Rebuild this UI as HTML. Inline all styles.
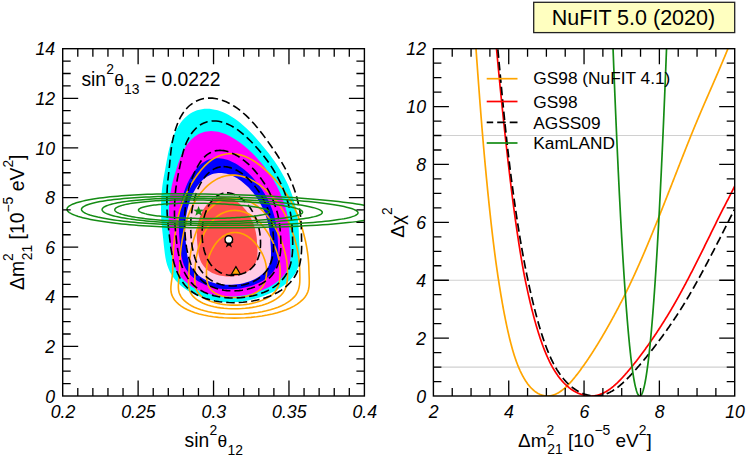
<!DOCTYPE html><html><head><meta charset="utf-8"><title>NuFIT 5.0</title>
<style>html,body{margin:0;padding:0;background:#fff}svg{display:block}text{font-family:"Liberation Sans",sans-serif;fill:#000}</style></head><body>
<svg width="747" height="457" viewBox="0 0 747 457">
<rect width="747" height="457" fill="#fff"/>
<defs><clipPath id="cl"><rect x="62.70" y="48.70" width="301.70" height="347.30"/></clipPath>
<clipPath id="cr"><rect x="433.40" y="48.70" width="301.30" height="347.30"/></clipPath></defs>
<g clip-path="url(#cl)">
<path d="M206.95 108.73 L209.56 108.83 L212.22 109.14 L214.91 109.64 L217.64 110.34 L220.40 111.23 L223.18 112.32 L225.98 113.61 L228.80 115.09 L231.63 116.75 L234.47 118.60 L237.31 120.62 L240.16 122.83 L243.00 125.20 L245.84 127.75 L248.68 130.45 L251.52 133.31 L254.35 136.32 L257.18 139.47 L260.03 142.76 L262.92 146.18 L265.82 149.72 L268.73 153.37 L271.59 157.14 L274.39 161.01 L277.08 164.97 L279.62 169.01 L282.00 173.13 L284.28 177.31 L286.46 181.56 L288.48 185.85 L290.31 190.18 L291.94 194.55 L293.39 198.94 L294.68 203.34 L295.81 207.75 L296.78 212.15 L297.52 216.54 L298.05 220.91 L298.43 225.24 L298.69 229.54 L298.88 233.78 L299.06 237.97 L299.23 242.09 L299.43 246.13 L299.62 250.09 L299.74 253.95 L299.68 257.72 L299.37 261.38 L298.71 264.92 L297.67 268.34 L296.21 271.63 L294.32 274.78 L292.04 277.79 L289.38 280.65 L286.38 283.35 L283.08 285.89 L279.53 288.27 L275.76 290.47 L271.83 292.50 L267.77 294.34 L263.63 296.01 L259.42 297.48 L255.19 298.77 L250.94 299.86 L246.69 300.76 L242.46 301.46 L238.25 301.96 L234.06 302.26 L229.91 302.36 L229.91 302.36 L225.78 302.26 L221.69 301.96 L217.63 301.46 L213.61 300.76 L209.63 299.86 L205.71 298.77 L201.86 297.48 L198.09 296.01 L194.42 294.34 L190.88 292.50 L187.48 290.47 L184.26 288.27 L181.23 285.89 L178.43 283.35 L175.86 280.65 L173.57 277.79 L171.54 274.78 L169.80 271.63 L168.34 268.34 L167.15 264.92 L166.19 261.38 L165.45 257.72 L164.87 253.95 L164.39 250.09 L163.95 246.13 L163.52 242.09 L163.09 237.97 L162.64 233.78 L162.18 229.54 L161.76 225.24 L161.40 220.91 L161.13 216.54 L161.00 212.15 L161.03 207.75 L161.11 203.34 L161.26 198.94 L161.51 194.55 L161.88 190.18 L162.37 185.85 L162.99 181.56 L163.69 177.31 L164.44 173.13 L165.21 169.01 L165.94 164.97 L166.66 161.01 L167.38 157.14 L168.14 153.37 L168.97 149.72 L169.87 146.18 L170.89 142.76 L172.02 139.47 L173.24 136.32 L174.55 133.31 L175.94 130.45 L177.42 127.75 L178.98 125.20 L180.64 122.83 L182.39 120.62 L184.23 118.60 L186.16 116.75 L188.18 115.09 L190.28 113.61 L192.45 112.32 L194.71 111.23 L197.03 110.34 L199.42 109.64 L201.87 109.14 L204.39 108.83 L206.95 108.73Z" fill="#00ffff"/>
<path d="M211.28 131.05 L213.56 131.13 L215.88 131.39 L218.23 131.82 L220.61 132.41 L223.03 133.18 L225.48 134.11 L227.94 135.21 L230.43 136.48 L232.94 137.90 L235.46 139.48 L238.01 141.21 L240.58 143.09 L243.17 145.12 L245.78 147.30 L248.41 149.61 L251.05 152.05 L253.68 154.62 L256.30 157.32 L258.89 160.13 L261.43 163.05 L263.89 166.08 L266.25 169.21 L268.52 172.43 L270.72 175.73 L272.86 179.12 L274.90 182.57 L276.84 186.09 L278.65 189.67 L280.32 193.30 L281.84 196.97 L283.24 200.67 L284.51 204.41 L285.66 208.16 L286.68 211.92 L287.52 215.69 L288.18 219.45 L288.70 223.21 L289.11 226.94 L289.42 230.64 L289.66 234.32 L289.87 237.94 L290.05 241.52 L290.22 245.04 L290.41 248.50 L290.55 251.88 L290.59 255.19 L290.46 258.41 L290.11 261.53 L289.48 264.56 L288.54 267.48 L287.28 270.30 L285.68 272.99 L283.76 275.56 L281.53 278.01 L279.03 280.32 L276.27 282.49 L273.29 284.52 L270.11 286.40 L266.77 288.14 L263.30 289.72 L259.71 291.14 L256.05 292.40 L252.33 293.50 L248.56 294.43 L244.77 295.20 L240.97 295.80 L237.17 296.22 L233.37 296.48 L229.60 296.57 L229.60 296.57 L225.85 296.48 L222.13 296.22 L218.45 295.80 L214.82 295.20 L211.25 294.43 L207.75 293.50 L204.32 292.40 L201.00 291.14 L197.78 289.72 L194.68 288.14 L191.73 286.40 L188.94 284.52 L186.33 282.49 L183.90 280.32 L181.69 278.01 L179.70 275.56 L177.93 272.99 L176.39 270.30 L175.08 267.48 L173.99 264.56 L173.11 261.53 L172.40 258.41 L171.84 255.19 L171.38 251.88 L170.99 248.50 L170.63 245.04 L170.27 241.52 L169.91 237.94 L169.58 234.32 L169.27 230.64 L168.99 226.94 L168.78 223.21 L168.65 219.45 L168.62 215.69 L168.70 211.92 L168.91 208.16 L169.17 204.41 L169.51 200.67 L169.92 196.97 L170.43 193.30 L171.03 189.67 L171.73 186.09 L172.52 182.57 L173.39 179.12 L174.32 175.73 L175.29 172.43 L176.29 169.21 L177.30 166.08 L178.31 163.05 L179.34 160.13 L180.41 157.32 L181.53 154.62 L182.71 152.05 L183.96 149.61 L185.28 147.30 L186.68 145.12 L188.17 143.09 L189.73 141.21 L191.38 139.48 L193.10 137.90 L194.89 136.48 L196.73 135.21 L198.64 134.11 L200.61 133.18 L202.64 132.41 L204.73 131.82 L206.86 131.39 L209.05 131.13 L211.28 131.05Z" fill="#ff00ff"/>
<path d="M217.22 158.16 L219.14 158.23 L221.10 158.43 L223.08 158.77 L225.10 159.25 L227.14 159.85 L229.20 160.59 L231.29 161.46 L233.38 162.46 L235.49 163.59 L237.60 164.84 L239.70 166.21 L241.80 167.70 L243.87 169.31 L245.92 171.03 L247.95 172.86 L249.96 174.80 L251.95 176.83 L253.90 178.97 L255.82 181.19 L257.69 183.51 L259.51 185.91 L261.27 188.38 L262.95 190.93 L264.56 193.55 L266.08 196.23 L267.53 198.97 L268.89 201.75 L270.16 204.59 L271.35 207.46 L272.45 210.37 L273.44 213.30 L274.30 216.26 L275.05 219.23 L275.68 222.21 L276.22 225.19 L276.66 228.18 L277.03 231.15 L277.33 234.10 L277.57 237.04 L277.77 239.94 L277.92 242.82 L278.08 245.65 L278.24 248.44 L278.36 251.18 L278.41 253.86 L278.35 256.47 L278.15 259.02 L277.77 261.50 L277.18 263.90 L276.37 266.21 L275.33 268.44 L274.05 270.57 L272.54 272.61 L270.81 274.54 L268.87 276.37 L266.73 278.09 L264.42 279.70 L261.96 281.19 L259.35 282.57 L256.61 283.82 L253.78 284.94 L250.86 285.94 L247.87 286.81 L244.82 287.55 L241.74 288.16 L238.62 288.63 L235.49 288.97 L232.36 289.18 L229.23 289.24 L229.23 289.24 L226.12 289.18 L223.04 288.97 L219.99 288.63 L216.99 288.16 L214.04 287.55 L211.16 286.81 L208.35 285.94 L205.64 284.94 L203.02 283.82 L200.51 282.57 L198.12 281.19 L195.87 279.70 L193.75 278.09 L191.79 276.37 L189.99 274.54 L188.36 272.61 L186.89 270.57 L185.60 268.44 L184.48 266.21 L183.52 263.90 L182.72 261.50 L182.06 259.02 L181.53 256.47 L181.10 253.86 L180.74 251.18 L180.43 248.44 L180.14 245.65 L179.86 242.82 L179.58 239.94 L179.35 237.04 L179.15 234.10 L179.00 231.15 L178.91 228.18 L178.87 225.19 L178.91 222.21 L179.02 219.23 L179.21 216.26 L179.50 213.30 L179.87 210.37 L180.33 207.46 L180.84 204.59 L181.41 201.75 L182.05 198.97 L182.76 196.23 L183.53 193.55 L184.38 190.93 L185.29 188.38 L186.27 185.91 L187.32 183.51 L188.42 181.19 L189.57 178.97 L190.77 176.83 L192.01 174.80 L193.30 172.86 L194.63 171.03 L195.99 169.31 L197.39 167.70 L198.82 166.21 L200.28 164.84 L201.78 163.59 L203.33 162.46 L204.91 161.46 L206.54 160.59 L208.22 159.85 L209.94 159.25 L211.70 158.77 L213.50 158.43 L215.34 158.23 L217.22 158.16Z" fill="#0000ff"/>
<path d="M219.93 172.92 L221.63 172.97 L223.36 173.15 L225.10 173.44 L226.86 173.84 L228.63 174.36 L230.41 174.99 L232.20 175.73 L233.99 176.59 L235.79 177.55 L237.58 178.62 L239.37 179.79 L241.15 181.06 L242.91 182.43 L244.66 183.90 L246.39 185.47 L248.09 187.12 L249.75 188.86 L251.38 190.68 L252.96 192.58 L254.49 194.56 L255.98 196.60 L257.40 198.72 L258.77 200.89 L260.08 203.13 L261.33 205.42 L262.51 207.75 L263.62 210.13 L264.64 212.55 L265.58 215.01 L266.41 217.49 L267.16 219.99 L267.82 222.52 L268.40 225.05 L268.89 227.60 L269.32 230.15 L269.68 232.69 L269.97 235.23 L270.21 237.75 L270.39 240.26 L270.52 242.74 L270.67 245.19 L270.81 247.61 L270.93 249.99 L271.01 252.33 L271.01 254.62 L270.90 256.85 L270.67 259.03 L270.30 261.14 L269.75 263.19 L269.03 265.17 L268.12 267.07 L267.03 268.89 L265.75 270.63 L264.30 272.28 L262.67 273.84 L260.88 275.31 L258.95 276.68 L256.88 277.96 L254.69 279.13 L252.39 280.20 L250.00 281.16 L247.53 282.01 L244.99 282.75 L242.39 283.39 L239.75 283.90 L237.09 284.31 L234.40 284.60 L231.71 284.77 L229.01 284.83 L229.01 284.83 L226.33 284.77 L223.67 284.60 L221.04 284.31 L218.45 283.90 L215.91 283.39 L213.43 282.75 L211.01 282.01 L208.67 281.16 L206.42 280.20 L204.26 279.13 L202.21 277.96 L200.27 276.68 L198.45 275.31 L196.76 273.84 L195.20 272.28 L193.77 270.63 L192.49 268.89 L191.35 267.07 L190.35 265.17 L189.48 263.19 L188.74 261.14 L188.13 259.03 L187.62 256.85 L187.20 254.62 L186.85 252.33 L186.56 249.99 L186.31 247.61 L186.07 245.19 L185.83 242.74 L185.60 240.26 L185.41 237.75 L185.27 235.23 L185.18 232.69 L185.15 230.15 L185.17 227.60 L185.26 225.05 L185.41 222.52 L185.63 219.99 L185.92 217.49 L186.29 215.01 L186.73 212.55 L187.24 210.13 L187.83 207.75 L188.46 205.42 L189.15 203.13 L189.89 200.89 L190.69 198.72 L191.55 196.60 L192.47 194.56 L193.44 192.58 L194.46 190.68 L195.54 188.86 L196.67 187.12 L197.84 185.47 L199.07 183.90 L200.33 182.43 L201.63 181.06 L202.98 179.79 L204.36 178.62 L205.77 177.55 L207.22 176.59 L208.71 175.73 L210.22 174.99 L211.77 174.36 L213.35 173.84 L214.95 173.44 L216.59 173.15 L218.24 172.97 L219.93 172.92Z" fill="#ffcce6"/>
<path d="M222.75 196.82 L224.04 196.86 L225.33 196.98 L226.63 197.19 L227.93 197.48 L229.24 197.85 L230.54 198.30 L231.85 198.82 L233.15 199.43 L234.44 200.12 L235.72 200.88 L236.99 201.71 L238.24 202.62 L239.48 203.59 L240.69 204.64 L241.88 205.75 L243.04 206.93 L244.18 208.16 L245.28 209.46 L246.35 210.81 L247.38 212.22 L248.36 213.68 L249.30 215.18 L250.18 216.73 L251.02 218.32 L251.80 219.95 L252.53 221.61 L253.21 223.31 L253.83 225.03 L254.39 226.77 L254.90 228.54 L255.36 230.32 L255.76 232.12 L256.11 233.92 L256.40 235.74 L256.64 237.55 L256.82 239.36 L256.95 241.17 L257.06 242.96 L257.18 244.74 L257.29 246.51 L257.39 248.26 L257.47 249.98 L257.52 251.67 L257.52 253.33 L257.45 254.96 L257.31 256.55 L257.08 258.10 L256.76 259.61 L256.33 261.06 L255.80 262.47 L255.15 263.82 L254.39 265.12 L253.52 266.36 L252.54 267.53 L251.45 268.64 L250.25 269.69 L248.96 270.67 L247.58 271.57 L246.11 272.41 L244.57 273.17 L242.96 273.85 L241.29 274.46 L239.56 274.99 L237.80 275.44 L235.99 275.81 L234.16 276.09 L232.31 276.30 L230.45 276.42 L228.58 276.46 L228.58 276.46 L226.72 276.42 L224.86 276.30 L223.03 276.09 L221.22 275.81 L219.45 275.44 L217.71 274.99 L216.02 274.46 L214.39 273.85 L212.81 273.17 L211.30 272.41 L209.85 271.57 L208.49 270.67 L207.20 269.69 L205.99 268.64 L204.87 267.53 L203.84 266.36 L202.90 265.12 L202.05 263.82 L201.29 262.47 L200.62 261.06 L200.03 259.61 L199.53 258.10 L199.09 256.55 L198.73 254.96 L198.42 253.33 L198.16 251.67 L197.94 249.98 L197.75 248.26 L197.57 246.51 L197.41 244.74 L197.25 242.96 L197.09 241.17 L196.95 239.36 L196.87 237.55 L196.84 235.74 L196.86 233.92 L196.93 232.12 L197.06 230.32 L197.23 228.54 L197.46 226.77 L197.74 225.03 L198.08 223.31 L198.46 221.61 L198.90 219.95 L199.39 218.32 L199.93 216.73 L200.52 215.18 L201.16 213.68 L201.85 212.22 L202.58 210.81 L203.35 209.46 L204.17 208.16 L205.02 206.93 L205.91 205.75 L206.83 204.64 L207.79 203.59 L208.78 202.62 L209.81 201.71 L210.86 200.88 L211.95 200.12 L213.06 199.43 L214.20 198.82 L215.36 198.30 L216.55 197.85 L217.76 197.48 L218.98 197.19 L220.22 196.98 L221.48 196.86 L222.75 196.82Z" fill="#ff5050"/>
<path d="M235.04 232.47 L236.19 232.50 L237.35 232.60 L238.51 232.77 L239.66 233.00 L240.82 233.31 L241.97 233.67 L243.12 234.11 L244.25 234.60 L245.38 235.16 L246.50 235.78 L247.61 236.46 L248.70 237.20 L249.78 238.00 L250.85 238.86 L251.89 239.77 L252.92 240.73 L253.92 241.74 L254.91 242.80 L255.86 243.91 L256.79 245.06 L257.69 246.25 L258.55 247.48 L259.39 248.74 L260.20 250.04 L260.97 251.37 L261.71 252.73 L262.41 254.12 L263.06 255.52 L263.67 256.95 L264.22 258.40 L264.72 259.85 L265.16 261.32 L265.54 262.80 L265.87 264.28 L266.13 265.76 L266.33 267.24 L266.47 268.72 L266.55 270.18 L266.57 271.64 L266.54 273.09 L266.45 274.51 L266.31 275.92 L266.11 277.30 L265.85 278.66 L265.53 280.00 L265.14 281.30 L264.68 282.56 L264.15 283.79 L263.53 284.98 L262.84 286.13 L262.06 287.24 L261.19 288.30 L260.24 289.31 L259.20 290.27 L258.06 291.18 L256.82 292.03 L255.49 292.83 L254.06 293.57 L252.55 294.26 L250.96 294.88 L249.30 295.44 L247.58 295.93 L245.80 296.36 L243.98 296.73 L242.12 297.03 L240.24 297.27 L238.34 297.44 L236.43 297.54 L234.52 297.57 L234.52 297.57 L232.62 297.54 L230.73 297.44 L228.87 297.27 L227.04 297.03 L225.26 296.73 L223.53 296.36 L221.86 295.93 L220.25 295.44 L218.72 294.88 L217.27 294.26 L215.91 293.57 L214.65 292.83 L213.49 292.03 L212.43 291.18 L211.48 290.27 L210.62 289.31 L209.86 288.30 L209.20 287.24 L208.61 286.13 L208.12 284.98 L207.70 283.79 L207.35 282.56 L207.07 281.30 L206.86 280.00 L206.70 278.66 L206.58 277.30 L206.51 275.92 L206.47 274.51 L206.47 273.09 L206.48 271.64 L206.52 270.18 L206.59 268.72 L206.70 267.24 L206.87 265.76 L207.08 264.28 L207.35 262.80 L207.66 261.32 L208.02 259.85 L208.43 258.40 L208.89 256.95 L209.39 255.52 L209.94 254.12 L210.52 252.73 L211.15 251.37 L211.80 250.04 L212.49 248.74 L213.21 247.48 L213.95 246.25 L214.73 245.06 L215.54 243.91 L216.38 242.80 L217.24 241.74 L218.14 240.73 L219.06 239.77 L220.00 238.86 L220.96 238.00 L221.95 237.20 L222.96 236.46 L223.98 235.78 L225.03 235.16 L226.09 234.60 L227.16 234.11 L228.26 233.67 L229.36 233.31 L230.48 233.00 L231.61 232.77 L232.74 232.60 L233.89 232.50 L235.04 232.47Z" fill="none" stroke="#ffa500" stroke-width="1.6"/>
<path d="M234.51 210.39 L236.16 210.44 L237.82 210.58 L239.48 210.83 L241.14 211.17 L242.79 211.61 L244.43 212.14 L246.07 212.77 L247.69 213.50 L249.29 214.31 L250.88 215.21 L252.44 216.21 L253.97 217.29 L255.47 218.45 L256.94 219.69 L258.37 221.02 L259.77 222.41 L261.14 223.89 L262.47 225.43 L263.77 227.04 L265.03 228.71 L266.25 230.45 L267.44 232.24 L268.59 234.08 L269.70 235.97 L270.77 237.91 L271.80 239.89 L272.79 241.90 L273.73 243.95 L274.61 246.03 L275.43 248.13 L276.20 250.25 L276.92 252.39 L277.57 254.54 L278.16 256.69 L278.68 258.85 L279.11 261.01 L279.47 263.16 L279.75 265.29 L279.94 267.41 L280.05 269.52 L280.10 271.59 L280.09 273.64 L280.03 275.66 L279.90 277.64 L279.70 279.57 L279.41 281.47 L279.02 283.31 L278.51 285.10 L277.87 286.83 L277.10 288.51 L276.17 290.12 L275.07 291.66 L273.77 293.13 L272.28 294.53 L270.60 295.85 L268.74 297.10 L266.71 298.26 L264.52 299.34 L262.20 300.33 L259.76 301.24 L257.21 302.05 L254.58 302.77 L251.88 303.40 L249.11 303.94 L246.27 304.38 L243.36 304.72 L240.42 304.96 L237.46 305.11 L234.50 305.16 L234.50 305.16 L231.56 305.11 L228.65 304.96 L225.79 304.72 L223.00 304.38 L220.29 303.94 L217.69 303.40 L215.17 302.77 L212.75 302.05 L210.43 301.24 L208.23 300.33 L206.16 299.34 L204.24 298.26 L202.49 297.10 L200.93 295.85 L199.55 294.53 L198.37 293.13 L197.39 291.66 L196.61 290.12 L196.00 288.51 L195.53 286.83 L195.20 285.10 L194.98 283.31 L194.86 281.47 L194.82 279.57 L194.84 277.64 L194.89 275.66 L194.96 273.64 L195.03 271.59 L195.09 269.52 L195.17 267.41 L195.32 265.29 L195.51 263.16 L195.77 261.01 L196.08 258.85 L196.46 256.69 L196.89 254.54 L197.37 252.39 L197.90 250.25 L198.47 248.13 L199.09 246.03 L199.76 243.95 L200.47 241.90 L201.24 239.89 L202.05 237.91 L202.89 235.97 L203.77 234.08 L204.69 232.24 L205.65 230.45 L206.65 228.71 L207.68 227.04 L208.76 225.43 L209.88 223.89 L211.04 222.41 L212.25 221.02 L213.49 219.69 L214.78 218.45 L216.11 217.29 L217.48 216.21 L218.89 215.21 L220.34 214.31 L221.81 213.50 L223.32 212.77 L224.86 212.14 L226.42 211.61 L228.01 211.17 L229.61 210.83 L231.23 210.58 L232.87 210.44 L234.51 210.39Z" fill="none" stroke="#ffa500" stroke-width="1.6"/>
<path d="M234.08 197.91 L235.99 197.96 L237.92 198.14 L239.85 198.42 L241.78 198.82 L243.72 199.34 L245.64 199.96 L247.57 200.70 L249.48 201.54 L251.37 202.50 L253.24 203.55 L255.10 204.72 L256.92 205.98 L258.71 207.34 L260.46 208.79 L262.17 210.34 L263.83 211.98 L265.45 213.70 L267.01 215.51 L268.53 217.39 L269.98 219.35 L271.38 221.38 L272.72 223.47 L274.01 225.63 L275.26 227.84 L276.45 230.11 L277.60 232.43 L278.70 234.78 L279.75 237.18 L280.76 239.61 L281.72 242.07 L282.60 244.55 L283.42 247.06 L284.17 249.57 L284.86 252.09 L285.49 254.62 L286.03 257.14 L286.50 259.65 L286.87 262.15 L287.16 264.63 L287.36 267.09 L287.48 269.52 L287.52 271.92 L287.54 274.28 L287.49 276.60 L287.39 278.86 L287.19 281.08 L286.88 283.23 L286.44 285.33 L285.85 287.36 L285.08 289.32 L284.11 291.20 L282.90 293.00 L281.44 294.73 L279.73 296.36 L277.78 297.91 L275.61 299.37 L273.25 300.73 L270.71 301.99 L268.03 303.15 L265.20 304.21 L262.20 305.16 L259.03 306.01 L255.74 306.74 L252.33 307.37 L248.84 307.88 L245.29 308.28 L241.70 308.57 L238.10 308.74 L234.50 308.80 L234.50 308.80 L230.92 308.74 L227.39 308.57 L223.93 308.28 L220.54 307.88 L217.26 307.37 L214.10 306.74 L211.08 306.01 L208.22 305.16 L205.53 304.21 L203.03 303.15 L200.69 301.99 L198.49 300.73 L196.47 299.37 L194.66 297.91 L193.09 296.36 L191.76 294.73 L190.69 293.00 L189.86 291.20 L189.27 289.32 L188.87 287.36 L188.64 285.33 L188.54 283.23 L188.55 281.08 L188.63 278.86 L188.76 276.60 L188.90 274.28 L189.01 271.92 L189.08 269.52 L189.16 267.09 L189.29 264.63 L189.48 262.15 L189.73 259.65 L190.03 257.14 L190.39 254.62 L190.81 252.09 L191.28 249.57 L191.79 247.06 L192.36 244.55 L192.98 242.07 L193.66 239.61 L194.39 237.18 L195.16 234.78 L195.97 232.43 L196.82 230.11 L197.72 227.84 L198.66 225.63 L199.66 223.47 L200.71 221.38 L201.82 219.35 L202.98 217.39 L204.21 215.51 L205.50 213.70 L206.85 211.98 L208.26 210.34 L209.72 208.79 L211.23 207.34 L212.78 205.98 L214.38 204.72 L216.01 203.55 L217.69 202.50 L219.40 201.54 L221.15 200.70 L222.93 199.96 L224.73 199.34 L226.56 198.82 L228.41 198.42 L230.28 198.14 L232.17 197.96 L234.08 197.91Z" fill="none" stroke="#ffa500" stroke-width="1.6"/>
<path d="M232.79 175.07 L234.97 175.15 L237.18 175.36 L239.41 175.72 L241.66 176.23 L243.92 176.87 L246.20 177.66 L248.49 178.58 L250.79 179.64 L253.09 180.84 L255.39 182.17 L257.69 183.62 L259.98 185.21 L262.24 186.92 L264.49 188.74 L266.71 190.69 L268.89 192.74 L271.03 194.91 L273.12 197.17 L275.15 199.54 L277.10 202.00 L278.98 204.54 L280.78 207.17 L282.49 209.88 L284.10 212.66 L285.63 215.51 L287.06 218.41 L288.40 221.37 L289.66 224.38 L290.85 227.43 L291.97 230.52 L293.03 233.64 L294.03 236.78 L294.98 239.93 L295.86 243.10 L296.64 246.27 L297.33 249.44 L297.94 252.59 L298.47 255.73 L298.91 258.85 L299.25 261.93 L299.50 264.99 L299.66 268.00 L299.74 270.96 L299.81 273.86 L299.87 276.71 L299.86 279.49 L299.76 282.20 L299.52 284.83 L299.09 287.37 L298.43 289.83 L297.48 292.20 L296.18 294.46 L294.52 296.63 L292.50 298.68 L290.16 300.63 L287.56 302.45 L284.71 304.16 L281.55 305.75 L278.09 307.20 L274.37 308.53 L270.43 309.73 L266.31 310.79 L262.05 311.71 L257.68 312.50 L253.18 313.14 L248.56 313.65 L243.89 314.01 L239.19 314.22 L234.50 314.30 L234.50 314.30 L229.85 314.22 L225.27 314.01 L220.80 313.65 L216.47 313.14 L212.30 312.50 L208.33 311.71 L204.52 310.79 L200.89 309.73 L197.47 308.53 L194.29 307.20 L191.38 305.75 L188.76 304.16 L186.43 302.45 L184.33 300.63 L182.48 298.68 L180.97 296.63 L179.81 294.46 L179.01 292.20 L178.55 289.83 L178.35 287.37 L178.37 284.83 L178.54 282.20 L178.81 279.49 L179.11 276.71 L179.37 273.86 L179.54 270.96 L179.60 268.00 L179.69 264.99 L179.82 261.93 L179.99 258.85 L180.22 255.73 L180.50 252.59 L180.84 249.44 L181.22 246.27 L181.68 243.10 L182.20 239.93 L182.79 236.78 L183.41 233.64 L184.08 230.52 L184.80 227.43 L185.57 224.38 L186.41 221.37 L187.33 218.41 L188.33 215.51 L189.42 212.66 L190.59 209.88 L191.85 207.17 L193.18 204.54 L194.59 202.00 L196.07 199.54 L197.61 197.17 L199.23 194.91 L200.90 192.74 L202.64 190.69 L204.42 188.74 L206.26 186.92 L208.14 185.21 L210.05 183.62 L212.00 182.17 L213.97 180.84 L215.97 179.64 L218.00 178.58 L220.05 177.66 L222.12 176.87 L224.22 176.23 L226.33 175.72 L228.47 175.36 L230.62 175.15 L232.79 175.07Z" fill="none" stroke="#ffa500" stroke-width="1.6"/>
<path d="M231.05 153.71 L233.49 153.80 L235.94 154.06 L238.40 154.48 L240.86 155.07 L243.33 155.84 L245.79 156.76 L248.25 157.85 L250.70 159.11 L253.14 160.52 L255.57 162.09 L258.00 163.81 L260.43 165.68 L262.86 167.70 L265.30 169.85 L267.75 172.15 L270.21 174.58 L272.70 177.13 L275.19 179.81 L277.65 182.60 L280.07 185.50 L282.44 188.51 L284.73 191.61 L286.95 194.81 L289.07 198.09 L291.07 201.45 L292.96 204.88 L294.72 208.38 L296.34 211.93 L297.84 215.54 L299.21 219.18 L300.48 222.86 L301.64 226.57 L302.72 230.30 L303.73 234.03 L304.68 237.78 L305.57 241.51 L306.33 245.24 L306.99 248.95 L307.55 252.63 L308.02 256.27 L308.39 259.88 L308.65 263.43 L308.83 266.93 L308.92 270.36 L309.03 273.72 L309.16 277.00 L309.26 280.20 L309.25 283.30 L309.05 286.31 L308.59 289.21 L307.80 292.00 L306.56 294.68 L304.86 297.23 L302.70 299.66 L300.15 301.96 L297.27 304.11 L293.98 306.13 L290.29 308.00 L286.24 309.72 L281.90 311.29 L277.32 312.70 L272.43 313.96 L267.28 315.05 L261.94 315.97 L256.49 316.74 L250.99 317.33 L245.47 317.75 L239.96 318.01 L234.50 318.10 L234.50 318.10 L229.09 318.01 L223.76 317.75 L218.51 317.33 L213.39 316.74 L208.42 315.97 L203.64 315.05 L199.12 313.96 L194.91 312.70 L191.04 311.29 L187.43 309.72 L184.13 308.00 L181.17 306.13 L178.58 304.11 L176.34 301.96 L174.39 299.66 L172.84 297.23 L171.74 294.68 L171.09 292.00 L170.86 289.21 L170.94 286.31 L171.25 283.30 L171.68 280.20 L172.14 277.00 L172.52 273.72 L172.72 270.36 L172.77 266.93 L172.84 263.43 L172.94 259.88 L173.07 256.27 L173.25 252.63 L173.49 248.95 L173.78 245.24 L174.15 241.51 L174.62 237.78 L175.12 234.03 L175.66 230.30 L176.25 226.57 L176.90 222.86 L177.64 219.18 L178.48 215.54 L179.42 211.93 L180.47 208.38 L181.63 204.88 L182.87 201.45 L184.21 198.09 L185.65 194.81 L187.17 191.61 L188.78 188.51 L190.47 185.50 L192.20 182.60 L193.97 179.81 L195.77 177.13 L197.58 174.58 L199.40 172.15 L201.22 169.85 L203.07 167.70 L204.95 165.68 L206.86 163.81 L208.82 162.09 L210.82 160.52 L212.88 159.11 L214.99 157.85 L217.15 156.76 L219.36 155.84 L221.62 155.07 L223.92 154.48 L226.27 154.06 L228.65 153.80 L231.05 153.71Z" fill="none" stroke="#ffa500" stroke-width="1.6"/>
<path d="M226.96 192.84 L228.18 192.88 L229.42 193.01 L230.66 193.22 L231.91 193.52 L233.17 193.91 L234.43 194.37 L235.68 194.92 L236.93 195.55 L238.18 196.26 L239.42 197.04 L240.65 197.91 L241.86 198.85 L243.06 199.86 L244.24 200.94 L245.40 202.10 L246.54 203.32 L247.65 204.60 L248.73 205.94 L249.78 207.34 L250.79 208.80 L251.77 210.31 L252.70 211.87 L253.59 213.48 L254.42 215.12 L255.21 216.81 L255.94 218.54 L256.62 220.29 L257.24 222.08 L257.81 223.88 L258.32 225.71 L258.78 227.56 L259.18 229.42 L259.53 231.30 L259.83 233.17 L260.07 235.05 L260.27 236.93 L260.41 238.80 L260.50 240.66 L260.54 242.51 L260.52 244.34 L260.45 246.15 L260.31 247.93 L260.12 249.69 L259.86 251.41 L259.54 253.10 L259.15 254.75 L258.69 256.35 L258.17 257.91 L257.57 259.42 L256.90 260.88 L256.16 262.28 L255.35 263.63 L254.46 264.91 L253.51 266.13 L252.48 267.28 L251.38 268.36 L250.22 269.38 L249.00 270.31 L247.71 271.18 L246.37 271.97 L244.98 272.68 L243.55 273.30 L242.07 273.85 L240.56 274.32 L239.02 274.70 L237.46 275.00 L235.89 275.21 L234.31 275.34 L232.72 275.38 L232.72 275.38 L231.14 275.34 L229.57 275.21 L228.01 275.00 L226.48 274.70 L224.97 274.32 L223.49 273.85 L222.05 273.30 L220.64 272.68 L219.28 271.97 L217.96 271.18 L216.69 270.31 L215.46 269.38 L214.29 268.36 L213.17 267.28 L212.11 266.13 L211.10 264.91 L210.15 263.63 L209.25 262.28 L208.41 260.88 L207.62 259.42 L206.89 257.91 L206.21 256.35 L205.59 254.75 L205.02 253.10 L204.50 251.41 L204.03 249.69 L203.61 247.93 L203.24 246.15 L202.93 244.34 L202.66 242.51 L202.45 240.66 L202.29 238.80 L202.18 236.93 L202.12 235.05 L202.11 233.17 L202.14 231.30 L202.23 229.42 L202.36 227.56 L202.54 225.71 L202.78 223.88 L203.06 222.08 L203.39 220.29 L203.77 218.54 L204.20 216.81 L204.68 215.12 L205.21 213.48 L205.79 211.87 L206.41 210.31 L207.07 208.80 L207.77 207.34 L208.51 205.94 L209.28 204.60 L210.08 203.32 L210.93 202.10 L211.80 200.94 L212.71 199.86 L213.66 198.85 L214.63 197.91 L215.63 197.04 L216.66 196.26 L217.72 195.55 L218.80 194.92 L219.91 194.37 L221.04 193.91 L222.19 193.52 L223.36 193.22 L224.54 193.01 L225.74 192.88 L226.96 192.84Z" fill="none" stroke="#000" stroke-width="1.6" stroke-dasharray="8.5 4"/>
<path d="M223.55 166.64 L225.19 166.70 L226.86 166.89 L228.55 167.20 L230.26 167.63 L231.98 168.18 L233.72 168.85 L235.46 169.65 L237.21 170.56 L238.97 171.58 L240.72 172.72 L242.47 173.97 L244.22 175.33 L245.96 176.79 L247.69 178.36 L249.40 180.02 L251.09 181.78 L252.75 183.64 L254.38 185.58 L255.97 187.61 L257.51 189.71 L259.01 191.90 L260.44 194.15 L261.82 196.47 L263.14 198.85 L264.40 201.29 L265.58 203.78 L266.70 206.32 L267.75 208.90 L268.72 211.52 L269.59 214.16 L270.36 216.83 L271.03 219.53 L271.61 222.23 L272.11 224.94 L272.52 227.66 L272.86 230.37 L273.14 233.08 L273.36 235.77 L273.52 238.44 L273.63 241.09 L273.67 243.70 L273.63 246.28 L273.50 248.82 L273.30 251.31 L272.99 253.75 L272.59 256.13 L272.09 258.45 L271.47 260.71 L270.74 262.89 L269.88 265.00 L268.90 267.02 L267.80 268.97 L266.56 270.82 L265.19 272.58 L263.68 274.25 L262.05 275.81 L260.29 277.28 L258.42 278.63 L256.45 279.88 L254.37 281.02 L252.20 282.05 L249.96 282.96 L247.64 283.75 L245.26 284.42 L242.84 284.97 L240.37 285.41 L237.89 285.71 L235.40 285.90 L232.90 285.96 L232.90 285.96 L230.42 285.90 L227.97 285.71 L225.56 285.41 L223.19 284.97 L220.89 284.42 L218.65 283.75 L216.49 282.96 L214.41 282.05 L212.42 281.02 L210.53 279.88 L208.73 278.63 L207.04 277.28 L205.44 275.81 L203.93 274.25 L202.52 272.58 L201.20 270.82 L199.97 268.97 L198.82 267.02 L197.76 265.00 L196.80 262.89 L195.91 260.71 L195.10 258.45 L194.37 256.13 L193.71 253.75 L193.13 251.31 L192.61 248.82 L192.16 246.28 L191.78 243.70 L191.46 241.09 L191.22 238.44 L191.02 235.77 L190.86 233.08 L190.76 230.37 L190.71 227.66 L190.72 224.94 L190.79 222.23 L190.93 219.53 L191.14 216.83 L191.42 214.16 L191.78 211.52 L192.21 208.90 L192.70 206.32 L193.23 203.78 L193.81 201.29 L194.46 198.85 L195.15 196.47 L195.91 194.15 L196.72 191.90 L197.59 189.71 L198.51 187.61 L199.48 185.58 L200.50 183.64 L201.57 181.78 L202.67 180.02 L203.82 178.36 L205.01 176.79 L206.23 175.33 L207.49 173.97 L208.79 172.72 L210.12 171.58 L211.48 170.56 L212.88 169.65 L214.31 168.85 L215.77 168.18 L217.27 167.63 L218.79 167.20 L220.35 166.89 L221.93 166.70 L223.55 166.64Z" fill="none" stroke="#000" stroke-width="1.6" stroke-dasharray="8.5 4"/>
<path d="M220.02 150.36 L221.88 150.43 L223.77 150.65 L225.70 151.01 L227.67 151.52 L229.66 152.17 L231.69 152.96 L233.74 153.90 L235.81 154.97 L237.90 156.17 L240.00 157.51 L242.11 158.99 L244.23 160.59 L246.33 162.31 L248.43 164.15 L250.49 166.12 L252.53 168.19 L254.51 170.37 L256.46 172.66 L258.38 175.05 L260.26 177.53 L262.10 180.10 L263.89 182.76 L265.61 185.49 L267.26 188.29 L268.83 191.17 L270.31 194.10 L271.70 197.09 L273.00 200.13 L274.21 203.21 L275.33 206.32 L276.36 209.47 L277.28 212.64 L278.06 215.83 L278.72 219.02 L279.26 222.22 L279.70 225.41 L280.05 228.60 L280.33 231.77 L280.54 234.92 L280.70 238.03 L280.82 241.11 L280.86 244.15 L280.82 247.14 L280.67 250.07 L280.42 252.95 L280.06 255.75 L279.57 258.48 L278.95 261.14 L278.18 263.71 L277.27 266.19 L276.19 268.58 L274.96 270.87 L273.54 273.05 L271.96 275.12 L270.20 277.09 L268.28 278.93 L266.20 280.65 L263.97 282.25 L261.61 283.73 L259.11 285.07 L256.50 286.27 L253.78 287.34 L250.96 288.28 L248.07 289.07 L245.11 289.72 L242.10 290.23 L239.07 290.59 L236.02 290.81 L232.97 290.88 L232.97 290.88 L229.95 290.81 L226.96 290.59 L224.03 290.23 L221.16 289.72 L218.38 289.07 L215.69 288.28 L213.11 287.34 L210.65 286.27 L208.31 285.07 L206.09 283.73 L204.01 282.25 L202.07 280.65 L200.25 278.93 L198.57 277.09 L197.00 275.12 L195.56 273.05 L194.22 270.87 L192.98 268.58 L191.84 266.19 L190.81 263.71 L189.88 261.14 L189.03 258.48 L188.28 255.75 L187.61 252.95 L187.01 250.07 L186.49 247.14 L186.05 244.15 L185.69 241.11 L185.39 238.03 L185.13 234.92 L184.91 231.77 L184.73 228.60 L184.61 225.41 L184.55 222.22 L184.57 219.02 L184.67 215.83 L184.85 212.64 L185.14 209.47 L185.48 206.32 L185.88 203.21 L186.33 200.13 L186.86 197.09 L187.44 194.10 L188.10 191.17 L188.83 188.29 L189.63 185.49 L190.49 182.76 L191.41 180.10 L192.38 177.53 L193.39 175.05 L194.44 172.66 L195.53 170.37 L196.65 168.19 L197.78 166.12 L198.95 164.15 L200.14 162.31 L201.38 160.59 L202.66 158.99 L203.99 157.51 L205.36 156.17 L206.79 154.97 L208.27 153.90 L209.80 152.96 L211.39 152.17 L213.02 151.52 L214.70 151.01 L216.43 150.65 L218.20 150.43 L220.02 150.36Z" fill="none" stroke="#000" stroke-width="1.6" stroke-dasharray="8.5 4"/>
<path d="M213.88 120.94 L216.14 121.03 L218.44 121.31 L220.78 121.77 L223.15 122.41 L225.55 123.23 L227.97 124.22 L230.41 125.40 L232.87 126.75 L235.34 128.27 L237.82 129.96 L240.31 131.81 L242.81 133.83 L245.30 136.00 L247.81 138.32 L250.31 140.80 L252.84 143.41 L255.40 146.16 L257.97 149.04 L260.54 152.05 L263.10 155.18 L265.63 158.42 L268.10 161.76 L270.49 165.20 L272.76 168.74 L274.91 172.36 L276.98 176.05 L278.98 179.82 L280.87 183.65 L282.63 187.53 L284.23 191.45 L285.69 195.42 L287.01 199.41 L288.19 203.42 L289.24 207.45 L290.16 211.48 L290.90 215.51 L291.45 219.52 L291.86 223.51 L292.15 227.48 L292.35 231.40 L292.50 235.28 L292.63 239.11 L292.72 242.88 L292.72 246.57 L292.60 250.19 L292.35 253.73 L291.95 257.17 L291.39 260.51 L290.64 263.75 L289.69 266.88 L288.53 269.89 L287.13 272.77 L285.48 275.52 L283.59 278.13 L281.46 280.61 L279.10 282.93 L276.52 285.10 L273.72 287.12 L270.72 288.97 L267.52 290.66 L264.15 292.18 L260.61 293.53 L256.93 294.71 L253.13 295.70 L249.24 296.52 L245.27 297.16 L241.25 297.62 L237.21 297.90 L233.18 297.99 L233.18 297.99 L229.18 297.90 L225.24 297.62 L221.39 297.16 L217.64 296.52 L214.03 295.70 L210.56 294.71 L207.26 293.53 L204.14 292.18 L201.22 290.66 L198.48 288.97 L195.95 287.12 L193.62 285.10 L191.49 282.93 L189.54 280.61 L187.78 278.13 L186.17 275.52 L184.71 272.77 L183.38 269.89 L182.17 266.88 L181.08 263.75 L180.12 260.51 L179.26 257.17 L178.50 253.73 L177.83 250.19 L177.24 246.57 L176.75 242.88 L176.34 239.11 L175.94 235.28 L175.56 231.40 L175.20 227.48 L174.89 223.51 L174.65 219.52 L174.50 215.51 L174.47 211.48 L174.55 207.45 L174.68 203.42 L174.87 199.41 L175.15 195.42 L175.51 191.45 L175.97 187.53 L176.53 183.65 L177.17 179.82 L177.87 176.05 L178.60 172.36 L179.36 168.74 L180.10 165.20 L180.83 161.76 L181.57 158.42 L182.34 155.18 L183.17 152.05 L184.07 149.04 L185.05 146.16 L186.12 143.41 L187.28 140.80 L188.55 138.32 L189.89 136.00 L191.31 133.83 L192.80 131.81 L194.37 129.96 L196.01 128.27 L197.73 126.75 L199.53 125.40 L201.39 124.22 L203.32 123.23 L205.32 122.41 L207.38 121.77 L209.49 121.31 L211.66 121.03 L213.88 120.94Z" fill="none" stroke="#000" stroke-width="1.6" stroke-dasharray="8.5 4"/>
<path d="M209.63 98.04 L212.30 98.15 L215.01 98.46 L217.76 98.99 L220.54 99.73 L223.34 100.68 L226.16 101.84 L228.99 103.19 L231.82 104.75 L234.66 106.51 L237.49 108.46 L240.32 110.61 L243.14 112.94 L245.94 115.45 L248.73 118.13 L251.50 120.99 L254.25 124.01 L256.98 127.19 L259.69 130.52 L262.40 134.00 L265.09 137.61 L267.78 141.35 L270.52 145.22 L273.28 149.20 L276.04 153.29 L278.77 157.47 L281.40 161.74 L283.90 166.09 L286.21 170.52 L288.38 175.00 L290.45 179.54 L292.38 184.12 L294.12 188.74 L295.64 193.38 L296.97 198.03 L298.13 202.69 L299.13 207.34 L299.98 211.98 L300.59 216.59 L300.99 221.18 L301.23 225.71 L301.37 230.20 L301.46 234.62 L301.56 238.97 L301.65 243.25 L301.63 247.43 L301.49 251.52 L301.18 255.50 L300.70 259.36 L300.00 263.11 L299.08 266.72 L297.89 270.20 L296.41 273.53 L294.63 276.71 L292.56 279.73 L290.19 282.58 L287.53 285.27 L284.59 287.78 L281.39 290.11 L277.92 292.25 L274.20 294.20 L270.25 295.96 L266.10 297.52 L261.75 298.88 L257.25 300.04 L252.61 300.98 L247.87 301.72 L243.07 302.25 L238.24 302.57 L233.42 302.68 L233.42 302.68 L228.65 302.57 L223.97 302.25 L219.39 301.72 L214.96 300.98 L210.70 300.04 L206.64 298.88 L202.79 297.52 L199.18 295.96 L195.82 294.20 L192.71 292.25 L189.86 290.11 L187.27 287.78 L184.93 285.27 L182.83 282.58 L180.94 279.73 L179.26 276.71 L177.74 273.53 L176.37 270.20 L175.13 266.72 L174.04 263.11 L173.07 259.36 L172.21 255.50 L171.46 251.52 L170.80 247.43 L170.23 243.25 L169.75 238.97 L169.25 234.62 L168.73 230.20 L168.21 225.71 L167.74 221.18 L167.36 216.59 L167.10 211.98 L166.99 207.34 L166.92 202.69 L166.91 198.03 L167.00 193.38 L167.19 188.74 L167.52 184.12 L167.96 179.54 L168.45 175.00 L168.97 170.52 L169.45 166.09 L169.87 161.74 L170.28 157.47 L170.71 153.29 L171.20 149.20 L171.77 145.22 L172.46 141.35 L173.27 137.61 L174.16 134.00 L175.13 130.52 L176.20 127.19 L177.37 124.01 L178.64 120.99 L180.02 118.13 L181.51 115.45 L183.10 112.94 L184.81 110.61 L186.62 108.46 L188.53 106.51 L190.54 104.75 L192.65 103.19 L194.85 101.84 L197.13 100.68 L199.49 99.73 L201.93 98.99 L204.44 98.46 L207.01 98.15 L209.63 98.04Z" fill="none" stroke="#000" stroke-width="1.6" stroke-dasharray="8.5 4"/>
<path d="M269.30 211.70 L269.24 212.00 L269.08 212.29 L268.80 212.59 L268.41 212.88 L267.91 213.16 L267.30 213.45 L266.59 213.73 L265.76 214.00 L264.83 214.27 L263.80 214.54 L262.66 214.80 L261.42 215.05 L260.08 215.30 L258.65 215.54 L257.12 215.77 L255.49 216.00 L253.78 216.21 L251.98 216.42 L250.09 216.62 L248.12 216.81 L246.08 216.99 L243.96 217.16 L241.76 217.33 L239.50 217.48 L237.17 217.62 L234.78 217.75 L232.33 217.87 L229.82 217.98 L227.27 218.08 L224.67 218.17 L222.02 218.24 L219.34 218.31 L216.63 218.36 L213.88 218.40 L211.11 218.43 L208.31 218.45 L205.50 218.46 L202.67 218.45 L199.84 218.43 L197.00 218.40 L194.70 218.37 L192.41 218.32 L190.12 218.26 L187.85 218.20 L185.59 218.12 L183.34 218.02 L181.12 217.92 L178.92 217.81 L176.75 217.68 L174.61 217.55 L172.51 217.40 L170.44 217.25 L168.42 217.08 L166.43 216.90 L164.50 216.72 L162.61 216.52 L160.78 216.32 L159.01 216.11 L157.29 215.89 L155.63 215.66 L154.04 215.43 L152.52 215.19 L151.06 214.94 L149.67 214.68 L148.36 214.42 L147.12 214.16 L145.96 213.88 L144.88 213.61 L143.87 213.33 L142.95 213.04 L142.12 212.75 L141.36 212.46 L140.70 212.17 L140.12 211.87 L139.62 211.57 L139.22 211.28 L138.91 210.98 L138.68 210.68 L138.55 210.38 L138.50 210.08 L138.55 209.78 L138.68 209.48 L138.91 209.19 L139.22 208.90 L139.62 208.61 L140.12 208.32 L140.70 208.04 L141.36 207.76 L142.12 207.49 L142.95 207.22 L143.87 206.96 L144.88 206.71 L145.96 206.46 L147.12 206.21 L148.36 205.98 L149.67 205.75 L151.06 205.53 L152.52 205.32 L154.04 205.11 L155.63 204.92 L157.29 204.73 L159.01 204.55 L160.78 204.39 L162.61 204.23 L164.50 204.08 L166.43 203.94 L168.42 203.82 L170.44 203.70 L172.51 203.60 L174.61 203.50 L176.75 203.42 L178.92 203.35 L181.12 203.29 L183.34 203.24 L185.59 203.21 L187.85 203.18 L190.12 203.17 L192.41 203.17 L194.70 203.18 L197.00 203.20 L199.84 203.24 L202.67 203.30 L205.50 203.36 L208.31 203.44 L211.11 203.52 L213.88 203.62 L216.63 203.73 L219.34 203.85 L222.02 203.98 L224.67 204.12 L227.27 204.28 L229.82 204.44 L232.33 204.61 L234.78 204.79 L237.17 204.98 L239.50 205.18 L241.76 205.39 L243.96 205.61 L246.08 205.83 L248.12 206.06 L250.09 206.30 L251.98 206.55 L253.78 206.80 L255.49 207.06 L257.12 207.33 L258.65 207.60 L260.08 207.87 L261.42 208.15 L262.66 208.44 L263.80 208.72 L264.83 209.01 L265.76 209.31 L266.59 209.60 L267.30 209.90 L267.91 210.20 L268.41 210.50 L268.80 210.80 L269.08 211.10 L269.24 211.40Z" fill="none" stroke="#148c14" stroke-width="1.5"/>
<path d="M302.60 212.11 L302.52 212.54 L302.27 212.96 L301.85 213.37 L301.28 213.79 L300.53 214.19 L299.63 214.60 L298.56 214.99 L297.33 215.38 L295.95 215.77 L294.41 216.14 L292.72 216.51 L290.87 216.87 L288.88 217.22 L286.74 217.56 L284.47 217.89 L282.05 218.21 L279.50 218.51 L276.82 218.81 L274.01 219.09 L271.08 219.36 L268.04 219.61 L264.88 219.86 L261.61 220.09 L258.25 220.30 L254.78 220.50 L251.22 220.68 L247.58 220.85 L243.85 221.01 L240.05 221.14 L236.18 221.27 L232.24 221.37 L228.25 221.46 L224.21 221.53 L220.12 221.59 L215.99 221.63 L211.83 221.65 L207.65 221.66 L203.44 221.65 L199.22 221.62 L195.00 221.58 L191.85 221.53 L188.71 221.47 L185.57 221.39 L182.45 221.29 L179.35 221.18 L176.28 221.05 L173.23 220.90 L170.22 220.74 L167.24 220.57 L164.31 220.38 L161.42 220.17 L158.59 219.95 L155.81 219.72 L153.10 219.47 L150.44 219.21 L147.86 218.93 L145.35 218.64 L142.91 218.34 L140.56 218.03 L138.29 217.71 L136.11 217.38 L134.02 217.04 L132.02 216.68 L130.12 216.32 L128.32 215.95 L126.62 215.57 L125.03 215.19 L123.54 214.80 L122.17 214.40 L120.90 213.99 L119.76 213.58 L118.73 213.17 L117.81 212.75 L117.02 212.33 L116.34 211.91 L115.79 211.49 L115.36 211.06 L115.05 210.63 L114.86 210.21 L114.80 209.78 L114.86 209.36 L115.05 208.94 L115.36 208.52 L115.79 208.11 L116.34 207.70 L117.02 207.29 L117.81 206.89 L118.73 206.49 L119.76 206.11 L120.90 205.73 L122.17 205.35 L123.54 204.99 L125.03 204.63 L126.62 204.29 L128.32 203.95 L130.12 203.63 L132.02 203.31 L134.02 203.01 L136.11 202.72 L138.29 202.44 L140.56 202.17 L142.91 201.92 L145.35 201.68 L147.86 201.46 L150.44 201.25 L153.10 201.05 L155.81 200.87 L158.59 200.70 L161.42 200.55 L164.31 200.42 L167.24 200.30 L170.22 200.20 L173.23 200.11 L176.28 200.04 L179.35 199.99 L182.45 199.96 L185.57 199.94 L188.71 199.93 L191.85 199.95 L195.00 199.98 L199.22 200.04 L203.44 200.12 L207.65 200.21 L211.83 200.32 L215.99 200.45 L220.12 200.59 L224.21 200.75 L228.25 200.92 L232.24 201.11 L236.18 201.31 L240.05 201.53 L243.85 201.76 L247.58 202.01 L251.22 202.27 L254.78 202.54 L258.25 202.82 L261.61 203.12 L264.88 203.43 L268.04 203.75 L271.08 204.08 L274.01 204.43 L276.82 204.78 L279.50 205.14 L282.05 205.51 L284.47 205.89 L286.74 206.27 L288.88 206.67 L290.87 207.06 L292.72 207.47 L294.41 207.88 L295.95 208.29 L297.33 208.71 L298.56 209.13 L299.63 209.55 L300.53 209.98 L301.28 210.41 L301.85 210.83 L302.27 211.26 L302.52 211.69Z" fill="none" stroke="#148c14" stroke-width="1.5"/>
<path d="M322.30 212.36 L322.20 212.85 L321.90 213.34 L321.41 213.83 L320.72 214.31 L319.83 214.78 L318.76 215.25 L317.48 215.72 L316.02 216.17 L314.37 216.62 L312.53 217.06 L310.51 217.49 L308.32 217.90 L305.94 218.31 L303.39 218.71 L300.68 219.09 L297.80 219.46 L294.76 219.82 L291.56 220.16 L288.21 220.49 L284.72 220.80 L281.09 221.10 L277.32 221.38 L273.43 221.65 L269.41 221.89 L265.28 222.13 L261.04 222.34 L256.69 222.54 L252.25 222.71 L247.71 222.87 L243.10 223.02 L238.41 223.14 L233.65 223.24 L228.83 223.32 L223.95 223.39 L219.03 223.43 L214.07 223.46 L209.08 223.47 L204.07 223.45 L199.04 223.42 L194.00 223.37 L190.39 223.31 L186.79 223.24 L183.20 223.14 L179.62 223.03 L176.07 222.90 L172.55 222.75 L169.05 222.58 L165.60 222.40 L162.19 222.19 L158.83 221.97 L155.53 221.73 L152.28 221.47 L149.10 221.20 L145.98 220.91 L142.94 220.61 L139.98 220.29 L137.11 219.96 L134.32 219.61 L131.62 219.24 L129.02 218.87 L126.52 218.48 L124.12 218.08 L121.83 217.67 L119.65 217.25 L117.59 216.82 L115.64 216.38 L113.82 215.93 L112.12 215.47 L110.54 215.01 L109.10 214.53 L107.78 214.06 L106.60 213.58 L105.55 213.09 L104.64 212.60 L103.87 212.11 L103.23 211.61 L102.74 211.11 L102.38 210.62 L102.17 210.12 L102.10 209.63 L102.17 209.13 L102.38 208.64 L102.74 208.15 L103.23 207.67 L103.87 207.19 L104.64 206.72 L105.55 206.25 L106.60 205.79 L107.78 205.34 L109.10 204.89 L110.54 204.46 L112.12 204.03 L113.82 203.61 L115.64 203.21 L117.59 202.82 L119.65 202.44 L121.83 202.07 L124.12 201.72 L126.52 201.38 L129.02 201.05 L131.62 200.74 L134.32 200.44 L137.11 200.17 L139.98 199.90 L142.94 199.66 L145.98 199.43 L149.10 199.22 L152.28 199.02 L155.53 198.85 L158.83 198.69 L162.19 198.55 L165.60 198.43 L169.05 198.33 L172.55 198.25 L176.07 198.19 L179.62 198.14 L183.20 198.12 L186.79 198.12 L190.39 198.13 L194.00 198.17 L199.04 198.24 L204.07 198.33 L209.08 198.44 L214.07 198.57 L219.03 198.72 L223.95 198.89 L228.83 199.07 L233.65 199.27 L238.41 199.50 L243.10 199.73 L247.71 199.99 L252.25 200.26 L256.69 200.55 L261.04 200.85 L265.28 201.17 L269.41 201.51 L273.43 201.86 L277.32 202.22 L281.09 202.59 L284.72 202.98 L288.21 203.38 L291.56 203.79 L294.76 204.21 L297.80 204.65 L300.68 205.09 L303.39 205.54 L305.94 206.00 L308.32 206.46 L310.51 206.94 L312.53 207.41 L314.37 207.90 L316.02 208.39 L317.48 208.88 L318.76 209.37 L319.83 209.87 L320.72 210.37 L321.41 210.86 L321.90 211.36 L322.20 211.86Z" fill="none" stroke="#148c14" stroke-width="1.5"/>
<path d="M358.00 212.80 L357.88 213.36 L357.53 213.92 L356.95 214.48 L356.14 215.03 L355.10 215.57 L353.83 216.11 L352.32 216.64 L350.60 217.16 L348.65 217.67 L346.47 218.17 L344.08 218.66 L341.47 219.13 L338.64 219.60 L335.60 220.05 L332.36 220.48 L328.91 220.90 L325.26 221.31 L321.41 221.70 L317.37 222.07 L313.14 222.43 L308.72 222.76 L304.12 223.08 L299.35 223.38 L294.40 223.66 L289.29 223.92 L284.01 224.16 L278.57 224.38 L272.97 224.58 L267.22 224.75 L261.32 224.90 L255.27 225.04 L249.08 225.14 L242.73 225.23 L236.23 225.29 L229.57 225.33 L222.74 225.34 L215.70 225.33 L208.41 225.30 L200.75 225.24 L192.00 225.14 L187.66 225.08 L183.33 224.99 L179.01 224.88 L174.71 224.75 L170.44 224.60 L166.20 224.42 L162.01 224.23 L157.85 224.01 L153.75 223.78 L149.71 223.52 L145.74 223.24 L141.83 222.95 L138.01 222.64 L134.26 222.30 L130.61 221.95 L127.05 221.59 L123.59 221.20 L120.24 220.80 L116.99 220.38 L113.86 219.95 L110.86 219.51 L107.98 219.05 L105.22 218.58 L102.60 218.10 L100.12 217.60 L97.78 217.10 L95.59 216.58 L93.54 216.06 L91.65 215.53 L89.91 214.99 L88.33 214.44 L86.91 213.89 L85.65 213.33 L84.55 212.77 L83.62 212.21 L82.86 211.64 L82.27 211.07 L81.84 210.50 L81.59 209.94 L81.50 209.37 L81.59 208.81 L81.84 208.25 L82.27 207.69 L82.86 207.13 L83.62 206.59 L84.55 206.05 L85.65 205.51 L86.91 204.99 L88.33 204.47 L89.91 203.96 L91.65 203.47 L93.54 202.98 L95.59 202.51 L97.78 202.05 L100.12 201.60 L102.60 201.17 L105.22 200.75 L107.98 200.35 L110.86 199.96 L113.86 199.59 L116.99 199.24 L120.24 198.90 L123.59 198.58 L127.05 198.29 L130.61 198.01 L134.26 197.75 L138.01 197.51 L141.83 197.29 L145.74 197.09 L149.71 196.91 L153.75 196.76 L157.85 196.62 L162.01 196.51 L166.20 196.42 L170.44 196.35 L174.71 196.30 L179.01 196.28 L183.33 196.28 L187.66 196.30 L192.00 196.34 L200.75 196.46 L208.41 196.59 L215.70 196.73 L222.74 196.90 L229.57 197.08 L236.23 197.29 L242.73 197.51 L249.08 197.75 L255.27 198.02 L261.32 198.30 L267.22 198.60 L272.97 198.91 L278.57 199.25 L284.01 199.60 L289.29 199.97 L294.40 200.36 L299.35 200.76 L304.12 201.18 L308.72 201.61 L313.14 202.06 L317.37 202.52 L321.41 202.99 L325.26 203.48 L328.91 203.97 L332.36 204.48 L335.60 205.00 L338.64 205.52 L341.47 206.06 L344.08 206.60 L346.47 207.15 L348.65 207.70 L350.60 208.26 L352.32 208.82 L353.83 209.39 L355.10 209.95 L356.14 210.52 L356.95 211.09 L357.53 211.66 L357.88 212.23Z" fill="none" stroke="#148c14" stroke-width="1.5"/>
<path d="M385.30 213.14 L385.15 213.80 L384.70 214.46 L383.95 215.11 L382.90 215.75 L381.55 216.39 L379.90 217.02 L377.97 217.64 L375.74 218.25 L373.23 218.84 L370.43 219.43 L367.36 220.00 L364.01 220.56 L360.40 221.10 L356.52 221.62 L352.39 222.13 L348.00 222.62 L343.37 223.09 L338.51 223.55 L333.41 223.98 L328.10 224.39 L322.57 224.78 L316.84 225.15 L310.91 225.50 L304.79 225.83 L298.50 226.13 L292.04 226.41 L285.43 226.66 L278.66 226.89 L271.76 227.10 L264.74 227.27 L257.60 227.43 L250.35 227.56 L243.01 227.66 L235.59 227.73 L228.10 227.78 L220.55 227.81 L212.96 227.80 L205.32 227.77 L197.67 227.72 L190.00 227.64 L185.17 227.56 L180.35 227.46 L175.54 227.34 L170.76 227.19 L166.00 227.01 L161.29 226.81 L156.61 226.59 L151.99 226.34 L147.43 226.06 L142.93 225.76 L138.50 225.44 L134.16 225.10 L129.90 224.73 L125.73 224.35 L121.66 223.94 L117.70 223.51 L113.85 223.06 L110.12 222.59 L106.51 222.11 L103.03 221.60 L99.68 221.08 L96.47 220.54 L93.41 219.99 L90.49 219.43 L87.73 218.85 L85.13 218.26 L82.68 217.65 L80.41 217.04 L78.30 216.41 L76.36 215.78 L74.60 215.14 L73.02 214.49 L71.62 213.84 L70.40 213.18 L69.36 212.52 L68.51 211.86 L67.85 211.19 L67.38 210.52 L67.09 209.86 L67.00 209.19 L67.09 208.53 L67.38 207.87 L67.85 207.21 L68.51 206.56 L69.36 205.92 L70.40 205.28 L71.62 204.66 L73.02 204.04 L74.60 203.43 L76.36 202.83 L78.30 202.25 L80.41 201.68 L82.68 201.12 L85.13 200.57 L87.73 200.05 L90.49 199.54 L93.41 199.04 L96.47 198.57 L99.68 198.11 L103.03 197.67 L106.51 197.26 L110.12 196.86 L113.85 196.48 L117.70 196.13 L121.66 195.80 L125.73 195.49 L129.90 195.21 L134.16 194.95 L138.50 194.71 L142.93 194.50 L147.43 194.31 L151.99 194.15 L156.61 194.02 L161.29 193.91 L166.00 193.82 L170.76 193.77 L175.54 193.73 L180.35 193.73 L185.17 193.75 L190.00 193.80 L197.67 193.90 L205.32 194.04 L212.96 194.20 L220.55 194.38 L228.10 194.59 L235.59 194.83 L243.01 195.09 L250.35 195.37 L257.60 195.68 L264.74 196.01 L271.76 196.36 L278.66 196.74 L285.43 197.14 L292.04 197.55 L298.50 197.99 L304.79 198.45 L310.91 198.93 L316.84 199.42 L322.57 199.94 L328.10 200.46 L333.41 201.01 L338.51 201.57 L343.37 202.14 L348.00 202.73 L352.39 203.33 L356.52 203.94 L360.40 204.56 L364.01 205.19 L367.36 205.83 L370.43 206.48 L373.23 207.13 L375.74 207.79 L377.97 208.45 L379.90 209.12 L381.55 209.79 L382.90 210.46 L383.95 211.13 L384.70 211.80 L385.15 212.47Z" fill="none" stroke="#148c14" stroke-width="1.5"/>
</g>
<polygon points="198.60,205.90 199.95,209.54 203.83,209.70 200.79,212.11 201.83,215.85 198.60,213.70 195.37,215.85 196.41,212.11 193.37,209.70 197.25,209.54" fill="#148c14"/>
<polygon points="228.90,238.20 230.08,241.78 233.85,241.79 230.80,244.02 231.96,247.61 228.90,245.40 225.84,247.61 227.00,244.02 223.95,241.79 227.72,241.78" fill="#000"/>
<circle cx="228.8" cy="239.5" r="3.8" fill="#fff" stroke="#000" stroke-width="1.4"/>
<polygon points="235.9,266.6 240.4,274.3 231.4,274.3" fill="#ffa500" stroke="#000" stroke-width="1.2"/>
<rect x="62.70" y="48.70" width="301.70" height="347.30" fill="none" stroke="#000" stroke-width="1.4"/><path d="M138.12 396.00v-15.50M138.12 48.70v15.50M213.55 396.00v-15.50M213.55 48.70v15.50M288.97 396.00v-15.50M288.97 48.70v15.50M77.79 396.00v-8.00M77.79 48.70v8.00M92.87 396.00v-8.00M92.87 48.70v8.00M107.95 396.00v-8.00M107.95 48.70v8.00M123.04 396.00v-8.00M123.04 48.70v8.00M153.21 396.00v-8.00M153.21 48.70v8.00M168.30 396.00v-8.00M168.30 48.70v8.00M183.38 396.00v-8.00M183.38 48.70v8.00M198.47 396.00v-8.00M198.47 48.70v8.00M228.63 396.00v-8.00M228.63 48.70v8.00M243.72 396.00v-8.00M243.72 48.70v8.00M258.81 396.00v-8.00M258.81 48.70v8.00M273.89 396.00v-8.00M273.89 48.70v8.00M304.06 396.00v-8.00M304.06 48.70v8.00M319.14 396.00v-8.00M319.14 48.70v8.00M334.23 396.00v-8.00M334.23 48.70v8.00M349.31 396.00v-8.00M349.31 48.70v8.00M62.70 346.39h15.50M364.40 346.39h-15.50M62.70 296.77h15.50M364.40 296.77h-15.50M62.70 247.16h15.50M364.40 247.16h-15.50M62.70 197.54h15.50M364.40 197.54h-15.50M62.70 147.93h15.50M364.40 147.93h-15.50M62.70 98.31h15.50M364.40 98.31h-15.50M62.70 383.60h8.00M364.40 383.60h-8.00M62.70 371.19h8.00M364.40 371.19h-8.00M62.70 358.79h8.00M364.40 358.79h-8.00M62.70 333.98h8.00M364.40 333.98h-8.00M62.70 321.58h8.00M364.40 321.58h-8.00M62.70 309.18h8.00M364.40 309.18h-8.00M62.70 284.37h8.00M364.40 284.37h-8.00M62.70 271.96h8.00M364.40 271.96h-8.00M62.70 259.56h8.00M364.40 259.56h-8.00M62.70 234.75h8.00M364.40 234.75h-8.00M62.70 222.35h8.00M364.40 222.35h-8.00M62.70 209.95h8.00M364.40 209.95h-8.00M62.70 185.14h8.00M364.40 185.14h-8.00M62.70 172.74h8.00M364.40 172.74h-8.00M62.70 160.33h8.00M364.40 160.33h-8.00M62.70 135.52h8.00M364.40 135.52h-8.00M62.70 123.12h8.00M364.40 123.12h-8.00M62.70 110.72h8.00M364.40 110.72h-8.00M62.70 85.91h8.00M364.40 85.91h-8.00M62.70 73.51h8.00M364.40 73.51h-8.00M62.70 61.10h8.00M364.40 61.10h-8.00" stroke="#000" stroke-width="1.3" fill="none"/>
<text x="55.2" y="402.70" text-anchor="end" style="font-size:17.7px;font-style:italic">0</text>
<text x="55.2" y="353.09" text-anchor="end" style="font-size:17.7px;font-style:italic">2</text>
<text x="55.2" y="303.47" text-anchor="end" style="font-size:17.7px;font-style:italic">4</text>
<text x="55.2" y="253.86" text-anchor="end" style="font-size:17.7px;font-style:italic">6</text>
<text x="55.2" y="204.24" text-anchor="end" style="font-size:17.7px;font-style:italic">8</text>
<text x="55.2" y="154.63" text-anchor="end" style="font-size:17.7px;font-style:italic">10</text>
<text x="55.2" y="105.01" text-anchor="end" style="font-size:17.7px;font-style:italic">12</text>
<text x="55.2" y="55.40" text-anchor="end" style="font-size:17.7px;font-style:italic">14</text>
<text x="63.00" y="417.9" text-anchor="middle" style="font-size:17.7px;font-style:italic">0.2</text>
<text x="138.43" y="417.9" text-anchor="middle" style="font-size:17.7px;font-style:italic">0.25</text>
<text x="213.85" y="417.9" text-anchor="middle" style="font-size:17.7px;font-style:italic">0.3</text>
<text x="289.27" y="417.9" text-anchor="middle" style="font-size:17.7px;font-style:italic">0.35</text>
<text x="364.70" y="417.9" text-anchor="middle" style="font-size:17.7px;font-style:italic">0.4</text>
<text x="81.4" y="85.9" style="font-size:19.3px">sin<tspan dy="-11.8" dx="0.3" style="font-size:13.9px">2</tspan><tspan dy="11.8" dx="0.1" style="font-size:17.4px">θ</tspan><tspan dy="7.8" dx="0.2" style="font-size:13.9px">13</tspan><tspan dy="-7.8"> = 0.0222</tspan></text>
<text x="184.6" y="447.1" style="font-size:19.3px">sin<tspan dy="-11.9" dx="0.3" style="font-size:13.9px">2</tspan><tspan dy="11.9" dx="0.1" style="font-size:17.4px">θ</tspan><tspan dy="7.6" dx="0.4" style="font-size:13.9px">12</tspan></text>
<text transform="translate(24.20 290.00) rotate(-90)" style="font-size:19.35px">Δm<tspan dy="-11.5" style="font-size:13.9px">2</tspan><tspan dx="-7" dy="19" style="font-size:13.9px">21</tspan><tspan dy="-7.5"> [10</tspan><tspan dy="-11.5" style="font-size:13.9px">−5</tspan><tspan dy="11.5"> eV</tspan><tspan dy="-11.5" style="font-size:13.9px">2</tspan><tspan dy="11.5">]</tspan></text>
<g clip-path="url(#cr)">
<line x1="433.40" x2="734.70" y1="367.06" y2="367.06" stroke="#d0d0d0" stroke-width="1.2"/>
<line x1="433.40" x2="734.70" y1="280.23" y2="280.23" stroke="#d0d0d0" stroke-width="1.2"/>
<line x1="433.40" x2="734.70" y1="135.52" y2="135.52" stroke="#d0d0d0" stroke-width="1.2"/>
<path d="M433.40 -761.67 L433.78 -761.67 L434.15 -761.67 L434.53 -761.67 L434.91 -759.29 L435.28 -749.75 L435.66 -740.24 L436.04 -730.78 L436.41 -721.36 L436.79 -711.97 L437.17 -702.63 L437.54 -693.32 L437.92 -684.06 L438.30 -674.83 L438.67 -665.64 L439.05 -656.49 L439.43 -647.38 L439.80 -638.31 L440.18 -629.28 L440.56 -620.28 L440.93 -611.33 L441.31 -602.41 L441.69 -593.54 L442.06 -584.70 L442.44 -575.91 L442.82 -567.15 L443.19 -558.43 L443.57 -549.75 L443.95 -541.12 L444.32 -532.52 L444.70 -523.96 L445.08 -515.44 L445.45 -506.95 L445.83 -498.51 L446.21 -490.11 L446.58 -481.75 L446.96 -473.42 L447.34 -465.14 L447.71 -456.89 L448.09 -448.69 L448.46 -440.52 L448.84 -432.40 L449.22 -424.31 L449.59 -416.27 L449.97 -408.26 L450.35 -400.29 L450.72 -392.36 L451.10 -384.48 L451.48 -376.63 L451.85 -368.82 L452.23 -361.05 L452.61 -353.32 L452.98 -345.63 L453.36 -337.98 L453.74 -330.37 L454.11 -322.80 L454.49 -315.27 L454.87 -307.77 L455.24 -300.32 L455.62 -292.91 L456.00 -285.54 L456.37 -278.20 L456.75 -270.91 L457.13 -263.66 L457.50 -256.45 L457.88 -249.27 L458.26 -242.14 L458.63 -235.04 L459.01 -227.99 L459.39 -220.98 L459.76 -214.00 L460.14 -207.07 L460.52 -200.17 L460.89 -193.32 L461.27 -186.50 L461.65 -179.73 L462.02 -172.99 L462.40 -166.30 L462.78 -159.64 L463.15 -153.02 L463.53 -146.45 L463.91 -139.91 L464.28 -133.42 L464.66 -126.96 L465.04 -120.54 L465.41 -114.17 L465.79 -107.83 L466.17 -101.53 L466.54 -95.28 L466.92 -89.06 L467.30 -82.88 L467.67 -76.75 L468.05 -70.65 L468.43 -64.59 L468.80 -58.57 L469.18 -52.60 L469.56 -46.66 L469.93 -40.76 L470.31 -34.90 L470.69 -29.08 L471.06 -23.31 L471.44 -17.57 L471.82 -11.87 L472.19 -6.21 L472.57 -0.59 L472.95 4.98 L473.32 10.52 L473.70 16.02 L474.08 21.48 L474.45 26.90 L474.83 32.28 L475.21 37.62 L475.58 42.92 L475.96 48.18 L476.34 53.40 L476.71 58.61 L477.09 63.80 L477.47 68.95 L477.84 74.08 L478.22 79.18 L478.59 84.24 L478.97 89.26 L479.35 94.25 L479.72 99.19 L480.10 104.08 L480.48 108.93 L480.85 113.73 L481.23 118.47 L481.61 123.16 L481.98 127.79 L482.36 132.37 L482.74 136.88 L483.11 141.34 L483.49 145.72 L483.87 150.05 L484.24 154.30 L484.62 158.49 L485.00 162.61 L485.37 166.66 L485.75 170.66 L486.13 174.62 L486.50 178.54 L486.88 182.42 L487.26 186.26 L487.63 190.05 L488.01 193.81 L488.39 197.51 L488.76 201.18 L489.14 204.80 L489.52 208.37 L489.89 211.90 L490.27 215.38 L490.65 218.82 L491.02 222.22 L491.40 225.56 L491.78 228.86 L492.15 232.12 L492.53 235.32 L492.91 238.48 L493.28 241.60 L493.66 244.66 L494.04 247.68 L494.41 250.65 L494.79 253.58 L495.17 256.46 L495.54 259.29 L495.92 262.07 L496.30 264.81 L496.67 267.49 L497.05 270.14 L497.43 272.73 L497.80 275.28 L498.18 277.78 L498.56 280.23 L498.93 282.65 L499.31 285.04 L499.69 287.39 L500.06 289.72 L500.44 292.01 L500.82 294.28 L501.19 296.51 L501.57 298.72 L501.95 300.89 L502.32 303.04 L502.70 305.15 L503.08 307.23 L503.45 309.28 L503.83 311.30 L504.21 313.29 L504.58 315.25 L504.96 317.18 L505.34 319.08 L505.71 320.94 L506.09 322.78 L506.47 324.58 L506.84 326.36 L507.22 328.10 L507.60 329.82 L507.97 331.50 L508.35 333.16 L508.73 334.78 L509.10 336.37 L509.48 337.94 L509.85 339.47 L510.23 340.98 L510.61 342.45 L510.98 343.90 L511.36 345.32 L511.74 346.71 L512.11 348.07 L512.49 349.40 L512.87 350.70 L513.24 351.98 L513.62 353.23 L514.00 354.45 L514.37 355.64 L514.75 356.81 L515.13 357.95 L515.50 359.06 L515.88 360.15 L516.26 361.21 L516.63 362.25 L517.01 363.26 L517.39 364.25 L517.76 365.21 L518.14 366.15 L518.52 367.06 L518.89 367.95 L519.27 368.82 L519.65 369.67 L520.02 370.51 L520.40 371.32 L520.78 372.12 L521.15 372.89 L521.53 373.65 L521.91 374.40 L522.28 375.12 L522.66 375.83 L523.04 376.53 L523.41 377.20 L523.79 377.87 L524.17 378.51 L524.54 379.14 L524.92 379.76 L525.30 380.36 L525.67 380.94 L526.05 381.51 L526.43 382.07 L526.80 382.62 L527.18 383.15 L527.56 383.66 L527.93 384.17 L528.31 384.66 L528.69 385.13 L529.06 385.60 L529.44 386.05 L529.82 386.49 L530.19 386.92 L530.57 387.34 L530.95 387.74 L531.32 388.14 L531.70 388.52 L532.08 388.89 L532.45 389.25 L532.83 389.60 L533.21 389.94 L533.58 390.27 L533.96 390.59 L534.34 390.90 L534.71 391.20 L535.09 391.49 L535.47 391.76 L535.84 392.03 L536.22 392.29 L536.60 392.54 L536.97 392.78 L537.35 393.01 L537.73 393.23 L538.10 393.45 L538.48 393.65 L538.86 393.85 L539.23 394.03 L539.61 394.21 L539.98 394.38 L540.36 394.54 L540.74 394.69 L541.11 394.83 L541.49 394.97 L541.87 395.09 L542.24 395.21 L542.62 395.32 L543.00 395.42 L543.37 395.51 L543.75 395.60 L544.13 395.67 L544.50 395.74 L544.88 395.80 L545.26 395.86 L545.63 395.90 L546.01 395.94 L546.39 395.96 L546.76 395.98 L547.14 396.00 L547.52 396.00 L547.89 396.00 L548.27 395.98 L548.65 395.96 L549.02 395.94 L549.40 395.90 L549.78 395.86 L550.15 395.80 L550.53 395.74 L550.91 395.68 L551.28 395.60 L551.66 395.52 L552.04 395.43 L552.41 395.33 L552.79 395.22 L553.17 395.10 L553.54 394.98 L553.92 394.85 L554.30 394.72 L554.67 394.57 L555.05 394.42 L555.43 394.26 L555.80 394.09 L556.18 393.92 L556.56 393.73 L556.93 393.54 L557.31 393.35 L557.69 393.14 L558.06 392.93 L558.44 392.71 L558.82 392.49 L559.19 392.25 L559.57 392.02 L559.95 391.77 L560.32 391.52 L560.70 391.26 L561.08 390.99 L561.45 390.72 L561.83 390.44 L562.21 390.15 L562.58 389.86 L562.96 389.56 L563.34 389.25 L563.71 388.94 L564.09 388.62 L564.47 388.30 L564.84 387.97 L565.22 387.63 L565.60 387.29 L565.97 386.94 L566.35 386.58 L566.73 386.22 L567.10 385.86 L567.48 385.49 L567.86 385.11 L568.23 384.73 L568.61 384.34 L568.99 383.95 L569.36 383.55 L569.74 383.15 L570.11 382.74 L570.49 382.32 L570.87 381.91 L571.24 381.48 L571.62 381.06 L572.00 380.63 L572.37 380.19 L572.75 379.75 L573.13 379.30 L573.50 378.85 L573.88 378.40 L574.26 377.94 L574.63 377.48 L575.01 377.02 L575.39 376.55 L575.76 376.07 L576.14 375.60 L576.52 375.12 L576.89 374.64 L577.27 374.15 L577.65 373.66 L578.02 373.17 L578.40 372.67 L578.78 372.17 L579.15 371.67 L579.53 371.17 L579.91 370.66 L580.28 370.16 L580.66 369.64 L581.04 369.13 L581.41 368.62 L581.79 368.10 L582.17 367.58 L582.54 367.06 L582.92 366.54 L583.30 366.01 L583.67 365.48 L584.05 364.95 L584.43 364.41 L584.80 363.88 L585.18 363.34 L585.56 362.80 L585.93 362.25 L586.31 361.70 L586.69 361.15 L587.06 360.60 L587.44 360.05 L587.82 359.49 L588.19 358.93 L588.57 358.37 L588.95 357.80 L589.32 357.23 L589.70 356.67 L590.08 356.09 L590.45 355.52 L590.83 354.94 L591.21 354.37 L591.58 353.79 L591.96 353.20 L592.34 352.62 L592.71 352.03 L593.09 351.44 L593.47 350.85 L593.84 350.26 L594.22 349.66 L594.60 349.06 L594.97 348.46 L595.35 347.86 L595.73 347.26 L596.10 346.65 L596.48 346.05 L596.86 345.44 L597.23 344.82 L597.61 344.21 L597.99 343.60 L598.36 342.98 L598.74 342.36 L599.12 341.74 L599.49 341.11 L599.87 340.49 L600.24 339.86 L600.62 339.23 L601.00 338.60 L601.37 337.97 L601.75 337.34 L602.13 336.70 L602.50 336.06 L602.88 335.42 L603.26 334.78 L603.63 334.14 L604.01 333.49 L604.39 332.84 L604.76 332.20 L605.14 331.54 L605.52 330.89 L605.89 330.24 L606.27 329.58 L606.65 328.92 L607.02 328.26 L607.40 327.60 L607.78 326.94 L608.15 326.27 L608.53 325.60 L608.91 324.93 L609.28 324.26 L609.66 323.59 L610.04 322.92 L610.41 322.24 L610.79 321.56 L611.17 320.88 L611.54 320.20 L611.92 319.51 L612.30 318.83 L612.67 318.14 L613.05 317.45 L613.43 316.76 L613.80 316.07 L614.18 315.37 L614.56 314.67 L614.93 313.97 L615.31 313.27 L615.69 312.57 L616.06 311.86 L616.44 311.16 L616.82 310.45 L617.19 309.74 L617.57 309.02 L617.95 308.31 L618.32 307.59 L618.70 306.87 L619.08 306.15 L619.45 305.42 L619.83 304.70 L620.21 303.97 L620.58 303.24 L620.96 302.51 L621.34 301.77 L621.71 301.04 L622.09 300.30 L622.47 299.56 L622.84 298.81 L623.22 298.07 L623.60 297.32 L623.97 296.57 L624.35 295.82 L624.73 295.06 L625.10 294.30 L625.48 293.54 L625.86 292.78 L626.23 292.02 L626.61 291.25 L626.99 290.48 L627.36 289.71 L627.74 288.93 L628.12 288.16 L628.49 287.38 L628.87 286.59 L629.25 285.81 L629.62 285.02 L630.00 284.23 L630.37 283.44 L630.75 282.64 L631.13 281.84 L631.50 281.04 L631.88 280.23 L632.26 279.43 L632.63 278.62 L633.01 277.80 L633.39 276.99 L633.76 276.17 L634.14 275.35 L634.52 274.53 L634.89 273.70 L635.27 272.88 L635.65 272.05 L636.02 271.22 L636.40 270.38 L636.78 269.55 L637.15 268.71 L637.53 267.87 L637.91 267.02 L638.28 266.18 L638.66 265.33 L639.04 264.48 L639.41 263.63 L639.79 262.77 L640.17 261.91 L640.54 261.06 L640.92 260.19 L641.30 259.33 L641.67 258.46 L642.05 257.60 L642.43 256.73 L642.80 255.86 L643.18 254.98 L643.56 254.11 L643.93 253.23 L644.31 252.35 L644.69 251.47 L645.06 250.58 L645.44 249.70 L645.82 248.81 L646.19 247.92 L646.57 247.03 L646.95 246.14 L647.32 245.24 L647.70 244.34 L648.08 243.45 L648.45 242.55 L648.83 241.64 L649.21 240.74 L649.58 239.83 L649.96 238.93 L650.34 238.02 L650.71 237.11 L651.09 236.20 L651.47 235.28 L651.84 234.37 L652.22 233.45 L652.60 232.53 L652.97 231.61 L653.35 230.69 L653.73 229.77 L654.10 228.84 L654.48 227.92 L654.86 226.99 L655.23 226.06 L655.61 225.13 L655.99 224.20 L656.36 223.27 L656.74 222.33 L657.12 221.40 L657.49 220.46 L657.87 219.53 L658.25 218.59 L658.62 217.65 L659.00 216.71 L659.38 215.76 L659.75 214.82 L660.13 213.88 L660.50 212.93 L660.88 211.99 L661.26 211.04 L661.63 210.09 L662.01 209.14 L662.39 208.19 L662.76 207.24 L663.14 206.29 L663.52 205.34 L663.89 204.38 L664.27 203.43 L664.65 202.48 L665.02 201.52 L665.40 200.56 L665.78 199.61 L666.15 198.65 L666.53 197.69 L666.91 196.73 L667.28 195.77 L667.66 194.82 L668.04 193.86 L668.41 192.89 L668.79 191.93 L669.17 190.97 L669.54 190.01 L669.92 189.05 L670.30 188.09 L670.67 187.12 L671.05 186.16 L671.43 185.20 L671.80 184.23 L672.18 183.27 L672.56 182.31 L672.93 181.34 L673.31 180.38 L673.69 179.41 L674.06 178.45 L674.44 177.48 L674.82 176.52 L675.19 175.56 L675.57 174.59 L675.95 173.63 L676.32 172.66 L676.70 171.70 L677.08 170.74 L677.45 169.77 L677.83 168.81 L678.21 167.85 L678.58 166.89 L678.96 165.92 L679.34 164.96 L679.71 164.00 L680.09 163.04 L680.47 162.08 L680.84 161.12 L681.22 160.16 L681.60 159.20 L681.97 158.25 L682.35 157.29 L682.73 156.33 L683.10 155.38 L683.48 154.42 L683.86 153.47 L684.23 152.51 L684.61 151.56 L684.99 150.61 L685.36 149.66 L685.74 148.71 L686.12 147.76 L686.49 146.81 L686.87 145.86 L687.25 144.92 L687.62 143.97 L688.00 143.03 L688.38 142.09 L688.75 141.15 L689.13 140.21 L689.51 139.27 L689.88 138.33 L690.26 137.39 L690.63 136.46 L691.01 135.52 L691.39 134.59 L691.76 133.66 L692.14 132.74 L692.52 131.81 L692.89 130.89 L693.27 129.97 L693.65 129.06 L694.02 128.14 L694.40 127.23 L694.78 126.32 L695.15 125.41 L695.53 124.50 L695.91 123.60 L696.28 122.70 L696.66 121.80 L697.04 120.90 L697.41 120.00 L697.79 119.11 L698.17 118.21 L698.54 117.32 L698.92 116.43 L699.30 115.55 L699.67 114.66 L700.05 113.77 L700.43 112.89 L700.80 112.01 L701.18 111.13 L701.56 110.25 L701.93 109.37 L702.31 108.50 L702.69 107.62 L703.06 106.75 L703.44 105.87 L703.82 105.00 L704.19 104.13 L704.57 103.26 L704.95 102.39 L705.32 101.52 L705.70 100.66 L706.08 99.79 L706.45 98.92 L706.83 98.06 L707.21 97.19 L707.58 96.33 L707.96 95.47 L708.34 94.60 L708.71 93.74 L709.09 92.88 L709.47 92.01 L709.84 91.15 L710.22 90.29 L710.60 89.43 L710.97 88.56 L711.35 87.70 L711.73 86.84 L712.10 85.98 L712.48 85.11 L712.86 84.25 L713.23 83.38 L713.61 82.52 L713.99 81.66 L714.36 80.79 L714.74 79.92 L715.12 79.06 L715.49 78.19 L715.87 77.32 L716.25 76.45 L716.62 75.58 L717.00 74.71 L717.38 73.84 L717.75 72.97 L718.13 72.09 L718.51 71.22 L718.88 70.34 L719.26 69.46 L719.64 68.58 L720.01 67.70 L720.39 66.81 L720.76 65.93 L721.14 65.04 L721.52 64.15 L721.89 63.26 L722.27 62.37 L722.65 61.48 L723.02 60.58 L723.40 59.68 L723.78 58.78 L724.15 57.88 L724.53 56.97 L724.91 56.06 L725.28 55.15 L725.66 54.24 L726.04 53.32 L726.41 52.40 L726.79 51.48 L727.17 50.56 L727.54 49.63 L727.92 48.70 L728.30 47.77 L728.67 46.83 L729.05 45.90 L729.43 44.96 L729.80 44.03 L730.18 43.09 L730.56 42.15 L730.93 41.21 L731.31 40.27 L731.69 39.33 L732.06 38.39 L732.44 37.45 L732.82 36.50 L733.19 35.56 L733.57 34.61 L733.95 33.67 L734.32 32.72 L734.70 31.77" fill="none" stroke="#ffa500" stroke-width="1.7"/>
<path d="M433.40 -761.67 L433.78 -761.67 L434.15 -761.67 L434.53 -761.67 L434.91 -761.67 L435.28 -761.67 L435.66 -761.67 L436.04 -761.67 L436.41 -761.67 L436.79 -761.67 L437.17 -761.67 L437.54 -761.67 L437.92 -761.67 L438.30 -761.67 L438.67 -761.67 L439.05 -761.67 L439.43 -761.67 L439.80 -761.67 L440.18 -761.67 L440.56 -761.67 L440.93 -761.67 L441.31 -761.67 L441.69 -761.67 L442.06 -761.67 L442.44 -761.67 L442.82 -761.67 L443.19 -761.67 L443.57 -761.67 L443.95 -761.67 L444.32 -761.67 L444.70 -761.67 L445.08 -761.67 L445.45 -761.67 L445.83 -761.67 L446.21 -761.67 L446.58 -754.24 L446.96 -746.72 L447.34 -739.21 L447.71 -731.72 L448.09 -724.23 L448.46 -716.76 L448.84 -709.30 L449.22 -701.86 L449.59 -694.42 L449.97 -687.01 L450.35 -679.60 L450.72 -672.21 L451.10 -664.83 L451.48 -657.47 L451.85 -650.13 L452.23 -642.79 L452.61 -635.48 L452.98 -628.18 L453.36 -620.90 L453.74 -613.63 L454.11 -606.38 L454.49 -599.15 L454.87 -591.94 L455.24 -584.74 L455.62 -577.57 L456.00 -570.41 L456.37 -563.27 L456.75 -556.15 L457.13 -549.04 L457.50 -541.96 L457.88 -534.90 L458.26 -527.86 L458.63 -520.83 L459.01 -513.83 L459.39 -506.85 L459.76 -499.89 L460.14 -492.95 L460.52 -486.04 L460.89 -479.14 L461.27 -472.27 L461.65 -465.42 L462.02 -458.59 L462.40 -451.79 L462.78 -445.00 L463.15 -438.24 L463.53 -431.51 L463.91 -424.80 L464.28 -418.11 L464.66 -411.45 L465.04 -404.81 L465.41 -398.19 L465.79 -391.60 L466.17 -385.04 L466.54 -378.50 L466.92 -371.99 L467.30 -365.50 L467.67 -359.04 L468.05 -352.60 L468.43 -346.19 L468.80 -339.81 L469.18 -333.45 L469.56 -327.12 L469.93 -320.81 L470.31 -314.54 L470.69 -308.29 L471.06 -302.06 L471.44 -295.87 L471.82 -289.70 L472.19 -283.56 L472.57 -277.45 L472.95 -271.37 L473.32 -265.32 L473.70 -259.29 L474.08 -253.29 L474.45 -247.32 L474.83 -241.39 L475.21 -235.48 L475.58 -229.59 L475.96 -223.74 L476.34 -217.92 L476.71 -212.13 L477.09 -206.36 L477.47 -200.63 L477.84 -194.93 L478.22 -189.25 L478.59 -183.61 L478.97 -178.00 L479.35 -172.42 L479.72 -166.86 L480.10 -161.34 L480.48 -155.85 L480.85 -150.39 L481.23 -144.96 L481.61 -139.56 L481.98 -134.20 L482.36 -128.86 L482.74 -123.55 L483.11 -118.28 L483.49 -113.04 L483.87 -107.83 L484.24 -102.65 L484.62 -97.50 L485.00 -92.38 L485.37 -87.30 L485.75 -82.25 L486.13 -77.22 L486.50 -72.23 L486.88 -67.28 L487.26 -62.35 L487.63 -57.46 L488.01 -52.60 L488.39 -47.77 L488.76 -42.97 L489.14 -38.20 L489.52 -33.47 L489.89 -28.77 L490.27 -24.10 L490.65 -19.46 L491.02 -14.86 L491.40 -10.28 L491.78 -5.74 L492.15 -1.24 L492.53 3.24 L492.91 7.68 L493.28 12.09 L493.66 16.47 L494.04 20.82 L494.41 25.13 L494.79 29.42 L495.17 33.67 L495.54 37.88 L495.92 42.07 L496.30 46.22 L496.67 50.34 L497.05 54.44 L497.43 58.49 L497.80 62.52 L498.18 66.52 L498.56 70.49 L498.93 74.43 L499.31 78.34 L499.69 82.22 L500.06 86.08 L500.44 89.90 L500.82 93.69 L501.19 97.46 L501.57 101.20 L501.95 104.90 L502.32 108.59 L502.70 112.24 L503.08 115.86 L503.45 119.46 L503.83 123.03 L504.21 126.58 L504.58 130.09 L504.96 133.58 L505.34 137.05 L505.71 140.48 L506.09 143.89 L506.47 147.28 L506.84 150.64 L507.22 153.97 L507.60 157.28 L507.97 160.56 L508.35 163.81 L508.73 167.05 L509.10 170.27 L509.48 173.47 L509.85 176.64 L510.23 179.79 L510.61 182.91 L510.98 186.01 L511.36 189.07 L511.74 192.11 L512.11 195.11 L512.49 198.09 L512.87 201.03 L513.24 203.93 L513.62 206.80 L514.00 209.63 L514.37 212.42 L514.75 215.18 L515.13 217.89 L515.50 220.57 L515.88 223.21 L516.26 225.84 L516.63 228.45 L517.01 231.03 L517.39 233.59 L517.76 236.13 L518.14 238.64 L518.52 241.12 L518.89 243.58 L519.27 246.00 L519.65 248.40 L520.02 250.76 L520.40 253.10 L520.78 255.40 L521.15 257.67 L521.53 259.90 L521.91 262.10 L522.28 264.26 L522.66 266.39 L523.04 268.48 L523.41 270.54 L523.79 272.55 L524.17 274.53 L524.54 276.47 L524.92 278.37 L525.30 280.23 L525.67 282.06 L526.05 283.87 L526.43 285.66 L526.80 287.43 L527.18 289.18 L527.56 290.92 L527.93 292.63 L528.31 294.32 L528.69 295.99 L529.06 297.64 L529.44 299.28 L529.82 300.89 L530.19 302.49 L530.57 304.06 L530.95 305.62 L531.32 307.16 L531.70 308.68 L532.08 310.18 L532.45 311.67 L532.83 313.13 L533.21 314.58 L533.58 316.01 L533.96 317.42 L534.34 318.81 L534.71 320.19 L535.09 321.55 L535.47 322.89 L535.84 324.21 L536.22 325.52 L536.60 326.81 L536.97 328.08 L537.35 329.34 L537.73 330.57 L538.10 331.80 L538.48 333.00 L538.86 334.19 L539.23 335.36 L539.61 336.52 L539.98 337.66 L540.36 338.78 L540.74 339.89 L541.11 340.98 L541.49 342.06 L541.87 343.12 L542.24 344.17 L542.62 345.20 L543.00 346.22 L543.37 347.22 L543.75 348.20 L544.13 349.17 L544.50 350.13 L544.88 351.07 L545.26 352.00 L545.63 352.91 L546.01 353.81 L546.39 354.70 L546.76 355.57 L547.14 356.43 L547.52 357.27 L547.89 358.10 L548.27 358.92 L548.65 359.72 L549.02 360.51 L549.40 361.29 L549.78 362.06 L550.15 362.81 L550.53 363.55 L550.91 364.27 L551.28 364.99 L551.66 365.69 L552.04 366.38 L552.41 367.06 L552.79 367.72 L553.17 368.38 L553.54 369.02 L553.92 369.66 L554.30 370.28 L554.67 370.89 L555.05 371.49 L555.43 372.08 L555.80 372.66 L556.18 373.23 L556.56 373.79 L556.93 374.34 L557.31 374.88 L557.69 375.41 L558.06 375.93 L558.44 376.44 L558.82 376.95 L559.19 377.44 L559.57 377.93 L559.95 378.40 L560.32 378.87 L560.70 379.33 L561.08 379.79 L561.45 380.23 L561.83 380.67 L562.21 381.09 L562.58 381.51 L562.96 381.93 L563.34 382.33 L563.71 382.73 L564.09 383.12 L564.47 383.50 L564.84 383.88 L565.22 384.25 L565.60 384.61 L565.97 384.96 L566.35 385.31 L566.73 385.65 L567.10 385.99 L567.48 386.31 L567.86 386.64 L568.23 386.95 L568.61 387.26 L568.99 387.56 L569.36 387.86 L569.74 388.15 L570.11 388.43 L570.49 388.71 L570.87 388.98 L571.24 389.25 L571.62 389.51 L572.00 389.77 L572.37 390.02 L572.75 390.26 L573.13 390.50 L573.50 390.73 L573.88 390.96 L574.26 391.18 L574.63 391.40 L575.01 391.61 L575.39 391.82 L575.76 392.02 L576.14 392.22 L576.52 392.41 L576.89 392.59 L577.27 392.77 L577.65 392.95 L578.02 393.12 L578.40 393.28 L578.78 393.45 L579.15 393.60 L579.53 393.75 L579.91 393.90 L580.28 394.04 L580.66 394.17 L581.04 394.31 L581.41 394.43 L581.79 394.55 L582.17 394.67 L582.54 394.78 L582.92 394.89 L583.30 394.99 L583.67 395.09 L584.05 395.18 L584.43 395.27 L584.80 395.35 L585.18 395.43 L585.56 395.50 L585.93 395.57 L586.31 395.63 L586.69 395.69 L587.06 395.74 L587.44 395.79 L587.82 395.84 L588.19 395.87 L588.57 395.91 L588.95 395.94 L589.32 395.96 L589.70 395.98 L590.08 395.99 L590.45 396.00 L590.83 396.00 L591.21 396.00 L591.58 395.99 L591.96 395.98 L592.34 395.96 L592.71 395.93 L593.09 395.90 L593.47 395.87 L593.84 395.83 L594.22 395.78 L594.60 395.73 L594.97 395.68 L595.35 395.62 L595.73 395.55 L596.10 395.48 L596.48 395.40 L596.86 395.31 L597.23 395.22 L597.61 395.13 L597.99 395.03 L598.36 394.92 L598.74 394.81 L599.12 394.70 L599.49 394.57 L599.87 394.45 L600.24 394.31 L600.62 394.17 L601.00 394.03 L601.37 393.88 L601.75 393.72 L602.13 393.56 L602.50 393.40 L602.88 393.23 L603.26 393.05 L603.63 392.87 L604.01 392.68 L604.39 392.48 L604.76 392.29 L605.14 392.08 L605.52 391.87 L605.89 391.66 L606.27 391.44 L606.65 391.21 L607.02 390.98 L607.40 390.75 L607.78 390.51 L608.15 390.26 L608.53 390.01 L608.91 389.75 L609.28 389.49 L609.66 389.23 L610.04 388.96 L610.41 388.68 L610.79 388.40 L611.17 388.11 L611.54 387.82 L611.92 387.53 L612.30 387.23 L612.67 386.92 L613.05 386.61 L613.43 386.30 L613.80 385.98 L614.18 385.66 L614.56 385.33 L614.93 385.00 L615.31 384.66 L615.69 384.32 L616.06 383.98 L616.44 383.63 L616.82 383.28 L617.19 382.92 L617.57 382.56 L617.95 382.20 L618.32 381.83 L618.70 381.46 L619.08 381.08 L619.45 380.70 L619.83 380.32 L620.21 379.93 L620.58 379.54 L620.96 379.15 L621.34 378.75 L621.71 378.35 L622.09 377.94 L622.47 377.54 L622.84 377.13 L623.22 376.72 L623.60 376.30 L623.97 375.88 L624.35 375.46 L624.73 375.04 L625.10 374.61 L625.48 374.18 L625.86 373.75 L626.23 373.32 L626.61 372.88 L626.99 372.45 L627.36 372.01 L627.74 371.56 L628.12 371.12 L628.49 370.68 L628.87 370.23 L629.25 369.78 L629.62 369.33 L630.00 368.88 L630.37 368.42 L630.75 367.97 L631.13 367.51 L631.50 367.06 L631.88 366.60 L632.26 366.14 L632.63 365.68 L633.01 365.21 L633.39 364.75 L633.76 364.28 L634.14 363.81 L634.52 363.34 L634.89 362.86 L635.27 362.39 L635.65 361.91 L636.02 361.43 L636.40 360.95 L636.78 360.47 L637.15 359.98 L637.53 359.49 L637.91 359.01 L638.28 358.52 L638.66 358.02 L639.04 357.53 L639.41 357.03 L639.79 356.54 L640.17 356.04 L640.54 355.54 L640.92 355.04 L641.30 354.53 L641.67 354.03 L642.05 353.52 L642.43 353.01 L642.80 352.50 L643.18 351.99 L643.56 351.48 L643.93 350.96 L644.31 350.44 L644.69 349.93 L645.06 349.41 L645.44 348.88 L645.82 348.36 L646.19 347.84 L646.57 347.31 L646.95 346.78 L647.32 346.25 L647.70 345.72 L648.08 345.19 L648.45 344.66 L648.83 344.12 L649.21 343.58 L649.58 343.05 L649.96 342.51 L650.34 341.96 L650.71 341.42 L651.09 340.88 L651.47 340.33 L651.84 339.78 L652.22 339.24 L652.60 338.68 L652.97 338.13 L653.35 337.58 L653.73 337.02 L654.10 336.47 L654.48 335.91 L654.86 335.35 L655.23 334.79 L655.61 334.23 L655.99 333.66 L656.36 333.09 L656.74 332.53 L657.12 331.96 L657.49 331.39 L657.87 330.82 L658.25 330.24 L658.62 329.67 L659.00 329.09 L659.38 328.51 L659.75 327.93 L660.13 327.35 L660.50 326.76 L660.88 326.18 L661.26 325.59 L661.63 325.00 L662.01 324.41 L662.39 323.82 L662.76 323.23 L663.14 322.63 L663.52 322.03 L663.89 321.44 L664.27 320.83 L664.65 320.23 L665.02 319.63 L665.40 319.02 L665.78 318.41 L666.15 317.80 L666.53 317.19 L666.91 316.58 L667.28 315.96 L667.66 315.35 L668.04 314.73 L668.41 314.11 L668.79 313.48 L669.17 312.86 L669.54 312.23 L669.92 311.60 L670.30 310.97 L670.67 310.34 L671.05 309.70 L671.43 309.06 L671.80 308.43 L672.18 307.78 L672.56 307.14 L672.93 306.49 L673.31 305.85 L673.69 305.20 L674.06 304.54 L674.44 303.89 L674.82 303.23 L675.19 302.57 L675.57 301.91 L675.95 301.25 L676.32 300.58 L676.70 299.91 L677.08 299.24 L677.45 298.57 L677.83 297.90 L678.21 297.22 L678.58 296.54 L678.96 295.86 L679.34 295.18 L679.71 294.50 L680.09 293.81 L680.47 293.12 L680.84 292.43 L681.22 291.74 L681.60 291.05 L681.97 290.36 L682.35 289.66 L682.73 288.96 L683.10 288.26 L683.48 287.56 L683.86 286.86 L684.23 286.15 L684.61 285.45 L684.99 284.74 L685.36 284.03 L685.74 283.32 L686.12 282.61 L686.49 281.90 L686.87 281.18 L687.25 280.46 L687.62 279.75 L688.00 279.03 L688.38 278.31 L688.75 277.58 L689.13 276.86 L689.51 276.14 L689.88 275.41 L690.26 274.68 L690.63 273.95 L691.01 273.22 L691.39 272.49 L691.76 271.76 L692.14 271.02 L692.52 270.29 L692.89 269.55 L693.27 268.81 L693.65 268.08 L694.02 267.34 L694.40 266.59 L694.78 265.85 L695.15 265.11 L695.53 264.37 L695.91 263.62 L696.28 262.87 L696.66 262.13 L697.04 261.38 L697.41 260.63 L697.79 259.88 L698.17 259.13 L698.54 258.38 L698.92 257.62 L699.30 256.87 L699.67 256.12 L700.05 255.36 L700.43 254.61 L700.80 253.85 L701.18 253.09 L701.56 252.33 L701.93 251.58 L702.31 250.82 L702.69 250.06 L703.06 249.30 L703.44 248.54 L703.82 247.77 L704.19 247.01 L704.57 246.25 L704.95 245.49 L705.32 244.72 L705.70 243.96 L706.08 243.19 L706.45 242.43 L706.83 241.66 L707.21 240.90 L707.58 240.13 L707.96 239.37 L708.34 238.60 L708.71 237.83 L709.09 237.07 L709.47 236.30 L709.84 235.53 L710.22 234.77 L710.60 234.00 L710.97 233.23 L711.35 232.46 L711.73 231.70 L712.10 230.93 L712.48 230.16 L712.86 229.39 L713.23 228.63 L713.61 227.86 L713.99 227.09 L714.36 226.32 L714.74 225.56 L715.12 224.79 L715.49 224.02 L715.87 223.26 L716.25 222.49 L716.62 221.73 L717.00 220.96 L717.38 220.20 L717.75 219.43 L718.13 218.67 L718.51 217.90 L718.88 217.14 L719.26 216.38 L719.64 215.62 L720.01 214.87 L720.39 214.12 L720.76 213.37 L721.14 212.63 L721.52 211.89 L721.89 211.15 L722.27 210.41 L722.65 209.68 L723.02 208.95 L723.40 208.22 L723.78 207.49 L724.15 206.76 L724.53 206.04 L724.91 205.32 L725.28 204.59 L725.66 203.87 L726.04 203.15 L726.41 202.43 L726.79 201.71 L727.17 200.98 L727.54 200.26 L727.92 199.54 L728.30 198.82 L728.67 198.09 L729.05 197.37 L729.43 196.64 L729.80 195.91 L730.18 195.18 L730.56 194.45 L730.93 193.71 L731.31 192.97 L731.69 192.23 L732.06 191.49 L732.44 190.74 L732.82 189.99 L733.19 189.23 L733.57 188.48 L733.95 187.71 L734.32 186.95 L734.70 186.17" fill="none" stroke="#ff0000" stroke-width="1.7"/>
<path d="M433.40 -761.67 L433.78 -761.67 L434.15 -761.67 L434.53 -761.67 L434.91 -761.67 L435.28 -761.67 L435.66 -761.67 L436.04 -761.67 L436.41 -761.67 L436.79 -761.67 L437.17 -761.67 L437.54 -761.67 L437.92 -761.67 L438.30 -761.67 L438.67 -761.67 L439.05 -761.67 L439.43 -761.67 L439.80 -761.67 L440.18 -761.67 L440.56 -761.67 L440.93 -761.67 L441.31 -761.67 L441.69 -761.67 L442.06 -761.67 L442.44 -761.67 L442.82 -761.67 L443.19 -761.67 L443.57 -761.67 L443.95 -761.67 L444.32 -761.67 L444.70 -761.67 L445.08 -761.67 L445.45 -761.67 L445.83 -761.11 L446.21 -753.59 L446.58 -746.10 L446.96 -738.62 L447.34 -731.17 L447.71 -723.73 L448.09 -716.32 L448.46 -708.94 L448.84 -701.57 L449.22 -694.23 L449.59 -686.91 L449.97 -679.61 L450.35 -672.33 L450.72 -665.08 L451.10 -657.85 L451.48 -650.64 L451.85 -643.45 L452.23 -636.29 L452.61 -629.15 L452.98 -622.03 L453.36 -614.93 L453.74 -607.86 L454.11 -600.81 L454.49 -593.79 L454.87 -586.79 L455.24 -579.81 L455.62 -572.85 L456.00 -565.92 L456.37 -559.01 L456.75 -552.12 L457.13 -545.26 L457.50 -538.42 L457.88 -531.61 L458.26 -524.82 L458.63 -518.05 L459.01 -511.30 L459.39 -504.59 L459.76 -497.89 L460.14 -491.22 L460.52 -484.57 L460.89 -477.95 L461.27 -471.35 L461.65 -464.77 L462.02 -458.22 L462.40 -451.69 L462.78 -445.19 L463.15 -438.71 L463.53 -432.26 L463.91 -425.83 L464.28 -419.42 L464.66 -413.04 L465.04 -406.69 L465.41 -400.35 L465.79 -394.05 L466.17 -387.77 L466.54 -381.51 L466.92 -375.28 L467.30 -369.07 L467.67 -362.89 L468.05 -356.73 L468.43 -350.59 L468.80 -344.49 L469.18 -338.40 L469.56 -332.35 L469.93 -326.31 L470.31 -320.31 L470.69 -314.32 L471.06 -308.37 L471.44 -302.43 L471.82 -296.53 L472.19 -290.65 L472.57 -284.79 L472.95 -278.96 L473.32 -273.16 L473.70 -267.38 L474.08 -261.62 L474.45 -255.89 L474.83 -250.19 L475.21 -244.51 L475.58 -238.86 L475.96 -233.23 L476.34 -227.63 L476.71 -222.06 L477.09 -216.51 L477.47 -210.98 L477.84 -205.48 L478.22 -200.01 L478.59 -194.57 L478.97 -189.14 L479.35 -183.75 L479.72 -178.38 L480.10 -173.04 L480.48 -167.72 L480.85 -162.43 L481.23 -157.16 L481.61 -151.92 L481.98 -146.71 L482.36 -141.52 L482.74 -136.36 L483.11 -131.22 L483.49 -126.11 L483.87 -121.03 L484.24 -115.97 L484.62 -110.94 L485.00 -105.93 L485.37 -100.96 L485.75 -96.00 L486.13 -91.07 L486.50 -86.17 L486.88 -81.30 L487.26 -76.45 L487.63 -71.63 L488.01 -66.83 L488.39 -62.06 L488.76 -57.31 L489.14 -52.60 L489.52 -47.90 L489.89 -43.24 L490.27 -38.60 L490.65 -33.98 L491.02 -29.40 L491.40 -24.84 L491.78 -20.30 L492.15 -15.79 L492.53 -11.31 L492.91 -6.85 L493.28 -2.42 L493.66 1.98 L494.04 6.36 L494.41 10.71 L494.79 15.04 L495.17 19.34 L495.54 23.61 L495.92 27.86 L496.30 32.08 L496.67 36.27 L497.05 40.44 L497.43 44.58 L497.80 48.70 L498.18 52.80 L498.56 56.89 L498.93 60.98 L499.31 65.05 L499.69 69.11 L500.06 73.15 L500.44 77.17 L500.82 81.18 L501.19 85.16 L501.57 89.12 L501.95 93.05 L502.32 96.96 L502.70 100.83 L503.08 104.68 L503.45 108.49 L503.83 112.27 L504.21 116.01 L504.58 119.71 L504.96 123.37 L505.34 127.00 L505.71 130.58 L506.09 134.12 L506.47 137.61 L506.84 141.06 L507.22 144.46 L507.60 147.82 L507.97 151.12 L508.35 154.38 L508.73 157.58 L509.10 160.73 L509.48 163.82 L509.85 166.87 L510.23 169.88 L510.61 172.86 L510.98 175.81 L511.36 178.74 L511.74 181.63 L512.11 184.49 L512.49 187.32 L512.87 190.12 L513.24 192.90 L513.62 195.64 L514.00 198.35 L514.37 201.04 L514.75 203.70 L515.13 206.33 L515.50 208.93 L515.88 211.50 L516.26 214.05 L516.63 216.57 L517.01 219.06 L517.39 221.52 L517.76 223.96 L518.14 226.37 L518.52 228.75 L518.89 231.11 L519.27 233.44 L519.65 235.74 L520.02 238.02 L520.40 240.27 L520.78 242.50 L521.15 244.70 L521.53 246.88 L521.91 249.03 L522.28 251.16 L522.66 253.26 L523.04 255.34 L523.41 257.40 L523.79 259.43 L524.17 261.44 L524.54 263.42 L524.92 265.38 L525.30 267.31 L525.67 269.23 L526.05 271.12 L526.43 272.99 L526.80 274.83 L527.18 276.65 L527.56 278.45 L527.93 280.23 L528.31 281.99 L528.69 283.74 L529.06 285.47 L529.44 287.18 L529.82 288.87 L530.19 290.55 L530.57 292.22 L530.95 293.86 L531.32 295.50 L531.70 297.11 L532.08 298.71 L532.45 300.29 L532.83 301.86 L533.21 303.41 L533.58 304.94 L533.96 306.46 L534.34 307.96 L534.71 309.45 L535.09 310.91 L535.47 312.37 L535.84 313.80 L536.22 315.22 L536.60 316.62 L536.97 318.01 L537.35 319.38 L537.73 320.74 L538.10 322.08 L538.48 323.40 L538.86 324.70 L539.23 325.99 L539.61 327.27 L539.98 328.53 L540.36 329.77 L540.74 330.99 L541.11 332.20 L541.49 333.40 L541.87 334.57 L542.24 335.74 L542.62 336.88 L543.00 338.01 L543.37 339.13 L543.75 340.23 L544.13 341.31 L544.50 342.38 L544.88 343.44 L545.26 344.48 L545.63 345.50 L546.01 346.51 L546.39 347.50 L546.76 348.48 L547.14 349.44 L547.52 350.39 L547.89 351.32 L548.27 352.24 L548.65 353.15 L549.02 354.04 L549.40 354.91 L549.78 355.77 L550.15 356.62 L550.53 357.46 L550.91 358.27 L551.28 359.08 L551.66 359.87 L552.04 360.65 L552.41 361.41 L552.79 362.17 L553.17 362.90 L553.54 363.63 L553.92 364.34 L554.30 365.04 L554.67 365.72 L555.05 366.40 L555.43 367.06 L555.80 367.71 L556.18 368.34 L556.56 368.97 L556.93 369.59 L557.31 370.19 L557.69 370.79 L558.06 371.37 L558.44 371.95 L558.82 372.51 L559.19 373.07 L559.57 373.62 L559.95 374.15 L560.32 374.68 L560.70 375.20 L561.08 375.71 L561.45 376.21 L561.83 376.70 L562.21 377.19 L562.58 377.66 L562.96 378.13 L563.34 378.59 L563.71 379.04 L564.09 379.48 L564.47 379.91 L564.84 380.34 L565.22 380.76 L565.60 381.17 L565.97 381.58 L566.35 381.98 L566.73 382.37 L567.10 382.75 L567.48 383.12 L567.86 383.49 L568.23 383.86 L568.61 384.21 L568.99 384.56 L569.36 384.90 L569.74 385.24 L570.11 385.57 L570.49 385.90 L570.87 386.21 L571.24 386.52 L571.62 386.83 L572.00 387.13 L572.37 387.42 L572.75 387.71 L573.13 387.99 L573.50 388.27 L573.88 388.54 L574.26 388.81 L574.63 389.07 L575.01 389.32 L575.39 389.57 L575.76 389.82 L576.14 390.05 L576.52 390.29 L576.89 390.52 L577.27 390.74 L577.65 390.96 L578.02 391.17 L578.40 391.38 L578.78 391.58 L579.15 391.78 L579.53 391.98 L579.91 392.16 L580.28 392.35 L580.66 392.53 L581.04 392.70 L581.41 392.87 L581.79 393.04 L582.17 393.20 L582.54 393.36 L582.92 393.51 L583.30 393.66 L583.67 393.80 L584.05 393.94 L584.43 394.07 L584.80 394.20 L585.18 394.32 L585.56 394.44 L585.93 394.56 L586.31 394.67 L586.69 394.78 L587.06 394.88 L587.44 394.98 L587.82 395.07 L588.19 395.16 L588.57 395.25 L588.95 395.33 L589.32 395.40 L589.70 395.47 L590.08 395.54 L590.45 395.60 L590.83 395.66 L591.21 395.72 L591.58 395.76 L591.96 395.81 L592.34 395.85 L592.71 395.88 L593.09 395.91 L593.47 395.94 L593.84 395.96 L594.22 395.98 L594.60 395.99 L594.97 396.00 L595.35 396.00 L595.73 396.00 L596.10 395.99 L596.48 395.98 L596.86 395.96 L597.23 395.94 L597.61 395.91 L597.99 395.88 L598.36 395.84 L598.74 395.80 L599.12 395.75 L599.49 395.70 L599.87 395.65 L600.24 395.58 L600.62 395.52 L601.00 395.45 L601.37 395.37 L601.75 395.29 L602.13 395.20 L602.50 395.11 L602.88 395.01 L603.26 394.91 L603.63 394.80 L604.01 394.69 L604.39 394.57 L604.76 394.45 L605.14 394.32 L605.52 394.19 L605.89 394.05 L606.27 393.91 L606.65 393.76 L607.02 393.60 L607.40 393.45 L607.78 393.28 L608.15 393.11 L608.53 392.94 L608.91 392.76 L609.28 392.58 L609.66 392.39 L610.04 392.20 L610.41 392.00 L610.79 391.80 L611.17 391.59 L611.54 391.38 L611.92 391.16 L612.30 390.94 L612.67 390.71 L613.05 390.48 L613.43 390.25 L613.80 390.00 L614.18 389.76 L614.56 389.51 L614.93 389.25 L615.31 389.00 L615.69 388.73 L616.06 388.46 L616.44 388.19 L616.82 387.91 L617.19 387.63 L617.57 387.35 L617.95 387.06 L618.32 386.76 L618.70 386.47 L619.08 386.16 L619.45 385.86 L619.83 385.55 L620.21 385.23 L620.58 384.91 L620.96 384.59 L621.34 384.26 L621.71 383.93 L622.09 383.60 L622.47 383.26 L622.84 382.92 L623.22 382.58 L623.60 382.23 L623.97 381.88 L624.35 381.52 L624.73 381.16 L625.10 380.80 L625.48 380.44 L625.86 380.07 L626.23 379.70 L626.61 379.32 L626.99 378.95 L627.36 378.57 L627.74 378.19 L628.12 377.80 L628.49 377.41 L628.87 377.02 L629.25 376.63 L629.62 376.23 L630.00 375.83 L630.37 375.43 L630.75 375.03 L631.13 374.63 L631.50 374.22 L631.88 373.81 L632.26 373.40 L632.63 372.99 L633.01 372.57 L633.39 372.16 L633.76 371.74 L634.14 371.32 L634.52 370.90 L634.89 370.48 L635.27 370.05 L635.65 369.63 L636.02 369.20 L636.40 368.77 L636.78 368.35 L637.15 367.92 L637.53 367.49 L637.91 367.06 L638.28 366.63 L638.66 366.19 L639.04 365.76 L639.41 365.32 L639.79 364.89 L640.17 364.45 L640.54 364.01 L640.92 363.56 L641.30 363.12 L641.67 362.67 L642.05 362.23 L642.43 361.78 L642.80 361.33 L643.18 360.88 L643.56 360.43 L643.93 359.97 L644.31 359.52 L644.69 359.06 L645.06 358.60 L645.44 358.14 L645.82 357.68 L646.19 357.22 L646.57 356.76 L646.95 356.29 L647.32 355.83 L647.70 355.36 L648.08 354.89 L648.45 354.42 L648.83 353.95 L649.21 353.48 L649.58 353.00 L649.96 352.53 L650.34 352.05 L650.71 351.58 L651.09 351.10 L651.47 350.62 L651.84 350.14 L652.22 349.66 L652.60 349.17 L652.97 348.69 L653.35 348.20 L653.73 347.71 L654.10 347.23 L654.48 346.74 L654.86 346.25 L655.23 345.75 L655.61 345.26 L655.99 344.77 L656.36 344.27 L656.74 343.77 L657.12 343.28 L657.49 342.78 L657.87 342.28 L658.25 341.77 L658.62 341.27 L659.00 340.77 L659.38 340.26 L659.75 339.76 L660.13 339.25 L660.50 338.74 L660.88 338.23 L661.26 337.72 L661.63 337.20 L662.01 336.69 L662.39 336.17 L662.76 335.66 L663.14 335.14 L663.52 334.62 L663.89 334.10 L664.27 333.58 L664.65 333.05 L665.02 332.53 L665.40 332.00 L665.78 331.48 L666.15 330.95 L666.53 330.42 L666.91 329.89 L667.28 329.35 L667.66 328.82 L668.04 328.28 L668.41 327.75 L668.79 327.21 L669.17 326.67 L669.54 326.13 L669.92 325.58 L670.30 325.04 L670.67 324.49 L671.05 323.94 L671.43 323.39 L671.80 322.84 L672.18 322.29 L672.56 321.74 L672.93 321.18 L673.31 320.62 L673.69 320.06 L674.06 319.50 L674.44 318.94 L674.82 318.38 L675.19 317.81 L675.57 317.24 L675.95 316.67 L676.32 316.10 L676.70 315.53 L677.08 314.95 L677.45 314.38 L677.83 313.80 L678.21 313.22 L678.58 312.64 L678.96 312.05 L679.34 311.46 L679.71 310.88 L680.09 310.29 L680.47 309.69 L680.84 309.10 L681.22 308.50 L681.60 307.90 L681.97 307.30 L682.35 306.70 L682.73 306.09 L683.10 305.49 L683.48 304.88 L683.86 304.26 L684.23 303.65 L684.61 303.03 L684.99 302.41 L685.36 301.79 L685.74 301.17 L686.12 300.54 L686.49 299.91 L686.87 299.28 L687.25 298.65 L687.62 298.02 L688.00 297.38 L688.38 296.74 L688.75 296.10 L689.13 295.46 L689.51 294.82 L689.88 294.17 L690.26 293.52 L690.63 292.87 L691.01 292.22 L691.39 291.57 L691.76 290.92 L692.14 290.26 L692.52 289.60 L692.89 288.95 L693.27 288.29 L693.65 287.62 L694.02 286.96 L694.40 286.29 L694.78 285.63 L695.15 284.96 L695.53 284.29 L695.91 283.62 L696.28 282.94 L696.66 282.27 L697.04 281.59 L697.41 280.91 L697.79 280.23 L698.17 279.55 L698.54 278.87 L698.92 278.19 L699.30 277.50 L699.67 276.82 L700.05 276.13 L700.43 275.44 L700.80 274.75 L701.18 274.05 L701.56 273.36 L701.93 272.67 L702.31 271.97 L702.69 271.27 L703.06 270.57 L703.44 269.87 L703.82 269.17 L704.19 268.47 L704.57 267.77 L704.95 267.06 L705.32 266.35 L705.70 265.65 L706.08 264.94 L706.45 264.23 L706.83 263.52 L707.21 262.81 L707.58 262.09 L707.96 261.38 L708.34 260.66 L708.71 259.95 L709.09 259.23 L709.47 258.51 L709.84 257.79 L710.22 257.07 L710.60 256.35 L710.97 255.63 L711.35 254.90 L711.73 254.18 L712.10 253.46 L712.48 252.73 L712.86 252.00 L713.23 251.28 L713.61 250.55 L713.99 249.82 L714.36 249.09 L714.74 248.36 L715.12 247.63 L715.49 246.89 L715.87 246.16 L716.25 245.43 L716.62 244.69 L717.00 243.96 L717.38 243.22 L717.75 242.49 L718.13 241.75 L718.51 241.01 L718.88 240.27 L719.26 239.53 L719.64 238.80 L720.01 238.06 L720.39 237.32 L720.76 236.58 L721.14 235.83 L721.52 235.09 L721.89 234.35 L722.27 233.61 L722.65 232.87 L723.02 232.12 L723.40 231.38 L723.78 230.64 L724.15 229.89 L724.53 229.15 L724.91 228.41 L725.28 227.66 L725.66 226.92 L726.04 226.17 L726.41 225.43 L726.79 224.68 L727.17 223.94 L727.54 223.19 L727.92 222.44 L728.30 221.70 L728.67 220.95 L729.05 220.21 L729.43 219.46 L729.80 218.72 L730.18 217.97 L730.56 217.23 L730.93 216.48 L731.31 215.73 L731.69 214.99 L732.06 214.24 L732.44 213.50 L732.82 212.76 L733.19 212.01 L733.57 211.27 L733.95 210.52 L734.32 209.78 L734.70 209.04" fill="none" stroke="#000" stroke-width="1.7" stroke-dasharray="8.5 4"/>
<path d="M433.40 -761.67 L433.78 -761.67 L434.15 -761.67 L434.53 -761.67 L434.91 -761.67 L435.28 -761.67 L435.66 -761.67 L436.04 -761.67 L436.41 -761.67 L436.79 -761.67 L437.17 -761.67 L437.54 -761.67 L437.92 -761.67 L438.30 -761.67 L438.67 -761.67 L439.05 -761.67 L439.43 -761.67 L439.80 -761.67 L440.18 -761.67 L440.56 -761.67 L440.93 -761.67 L441.31 -761.67 L441.69 -761.67 L442.06 -761.67 L442.44 -761.67 L442.82 -761.67 L443.19 -761.67 L443.57 -761.67 L443.95 -761.67 L444.32 -761.67 L444.70 -761.67 L445.08 -761.67 L445.45 -761.67 L445.83 -761.67 L446.21 -761.67 L446.58 -761.67 L446.96 -761.67 L447.34 -761.67 L447.71 -761.67 L448.09 -761.67 L448.46 -761.67 L448.84 -761.67 L449.22 -761.67 L449.59 -761.67 L449.97 -761.67 L450.35 -761.67 L450.72 -761.67 L451.10 -761.67 L451.48 -761.67 L451.85 -761.67 L452.23 -761.67 L452.61 -761.67 L452.98 -761.67 L453.36 -761.67 L453.74 -761.67 L454.11 -761.67 L454.49 -761.67 L454.87 -761.67 L455.24 -761.67 L455.62 -761.67 L456.00 -761.67 L456.37 -761.67 L456.75 -761.67 L457.13 -761.67 L457.50 -761.67 L457.88 -761.67 L458.26 -761.67 L458.63 -761.67 L459.01 -761.67 L459.39 -761.67 L459.76 -761.67 L460.14 -761.67 L460.52 -761.67 L460.89 -761.67 L461.27 -761.67 L461.65 -761.67 L462.02 -761.67 L462.40 -761.67 L462.78 -761.67 L463.15 -761.67 L463.53 -761.67 L463.91 -761.67 L464.28 -761.67 L464.66 -761.67 L465.04 -761.67 L465.41 -761.67 L465.79 -761.67 L466.17 -761.67 L466.54 -761.67 L466.92 -761.67 L467.30 -761.67 L467.67 -761.67 L468.05 -761.67 L468.43 -761.67 L468.80 -761.67 L469.18 -761.67 L469.56 -761.67 L469.93 -761.67 L470.31 -761.67 L470.69 -761.67 L471.06 -761.67 L471.44 -761.67 L471.82 -761.67 L472.19 -761.67 L472.57 -761.67 L472.95 -761.67 L473.32 -761.67 L473.70 -761.67 L474.08 -761.67 L474.45 -761.67 L474.83 -761.67 L475.21 -761.67 L475.58 -761.67 L475.96 -761.67 L476.34 -761.67 L476.71 -761.67 L477.09 -761.67 L477.47 -761.67 L477.84 -761.67 L478.22 -761.67 L478.59 -761.67 L478.97 -761.67 L479.35 -761.67 L479.72 -761.67 L480.10 -761.67 L480.48 -761.67 L480.85 -761.67 L481.23 -761.67 L481.61 -761.67 L481.98 -761.67 L482.36 -761.67 L482.74 -761.67 L483.11 -761.67 L483.49 -761.67 L483.87 -761.67 L484.24 -761.67 L484.62 -761.67 L485.00 -761.67 L485.37 -761.67 L485.75 -761.67 L486.13 -761.67 L486.50 -761.67 L486.88 -761.67 L487.26 -761.67 L487.63 -761.67 L488.01 -761.67 L488.39 -761.67 L488.76 -761.67 L489.14 -761.67 L489.52 -761.67 L489.89 -761.67 L490.27 -761.67 L490.65 -761.67 L491.02 -761.67 L491.40 -761.67 L491.78 -761.67 L492.15 -761.67 L492.53 -761.67 L492.91 -761.67 L493.28 -761.67 L493.66 -761.67 L494.04 -761.67 L494.41 -761.67 L494.79 -761.67 L495.17 -761.67 L495.54 -761.67 L495.92 -761.67 L496.30 -761.67 L496.67 -761.67 L497.05 -761.67 L497.43 -761.67 L497.80 -761.67 L498.18 -761.67 L498.56 -761.67 L498.93 -761.67 L499.31 -761.67 L499.69 -761.67 L500.06 -761.67 L500.44 -761.67 L500.82 -761.67 L501.19 -761.67 L501.57 -761.67 L501.95 -761.67 L502.32 -761.67 L502.70 -761.67 L503.08 -761.67 L503.45 -761.67 L503.83 -761.67 L504.21 -761.67 L504.58 -761.67 L504.96 -761.67 L505.34 -761.67 L505.71 -761.67 L506.09 -761.67 L506.47 -761.67 L506.84 -761.67 L507.22 -761.67 L507.60 -761.67 L507.97 -761.67 L508.35 -761.67 L508.73 -761.67 L509.10 -761.67 L509.48 -761.67 L509.85 -761.67 L510.23 -761.67 L510.61 -761.67 L510.98 -761.67 L511.36 -761.67 L511.74 -761.67 L512.11 -761.67 L512.49 -761.67 L512.87 -761.67 L513.24 -761.67 L513.62 -761.67 L514.00 -761.67 L514.37 -761.67 L514.75 -761.67 L515.13 -761.67 L515.50 -761.67 L515.88 -761.67 L516.26 -761.67 L516.63 -761.67 L517.01 -761.67 L517.39 -761.67 L517.76 -761.67 L518.14 -761.67 L518.52 -761.67 L518.89 -761.67 L519.27 -761.67 L519.65 -761.67 L520.02 -761.67 L520.40 -761.67 L520.78 -761.67 L521.15 -761.67 L521.53 -761.67 L521.91 -761.67 L522.28 -761.67 L522.66 -761.67 L523.04 -761.67 L523.41 -761.67 L523.79 -761.67 L524.17 -761.67 L524.54 -761.67 L524.92 -761.67 L525.30 -761.67 L525.67 -761.67 L526.05 -761.67 L526.43 -761.67 L526.80 -761.67 L527.18 -761.67 L527.56 -761.67 L527.93 -761.67 L528.31 -761.67 L528.69 -761.67 L529.06 -761.67 L529.44 -761.67 L529.82 -761.67 L530.19 -761.67 L530.57 -761.67 L530.95 -761.67 L531.32 -761.67 L531.70 -761.67 L532.08 -761.67 L532.45 -761.67 L532.83 -761.67 L533.21 -761.67 L533.58 -761.67 L533.96 -761.67 L534.34 -761.67 L534.71 -761.67 L535.09 -761.67 L535.47 -761.67 L535.84 -761.67 L536.22 -761.67 L536.60 -761.67 L536.97 -761.67 L537.35 -761.67 L537.73 -761.67 L538.10 -761.67 L538.48 -761.67 L538.86 -761.67 L539.23 -761.67 L539.61 -761.67 L539.98 -761.67 L540.36 -761.67 L540.74 -761.67 L541.11 -761.67 L541.49 -761.67 L541.87 -761.67 L542.24 -761.67 L542.62 -761.67 L543.00 -761.67 L543.37 -761.67 L543.75 -761.67 L544.13 -761.67 L544.50 -761.67 L544.88 -761.67 L545.26 -761.67 L545.63 -761.67 L546.01 -761.67 L546.39 -761.67 L546.76 -761.67 L547.14 -761.67 L547.52 -761.67 L547.89 -761.67 L548.27 -761.67 L548.65 -761.67 L549.02 -761.67 L549.40 -761.67 L549.78 -761.67 L550.15 -761.67 L550.53 -761.67 L550.91 -761.67 L551.28 -761.67 L551.66 -761.67 L552.04 -761.67 L552.41 -761.67 L552.79 -761.67 L553.17 -761.67 L553.54 -761.67 L553.92 -761.67 L554.30 -761.67 L554.67 -761.67 L555.05 -761.67 L555.43 -761.67 L555.80 -761.67 L556.18 -761.67 L556.56 -761.67 L556.93 -761.67 L557.31 -761.67 L557.69 -761.67 L558.06 -761.67 L558.44 -761.67 L558.82 -761.67 L559.19 -761.67 L559.57 -761.67 L559.95 -761.67 L560.32 -761.67 L560.70 -761.67 L561.08 -761.67 L561.45 -761.67 L561.83 -761.67 L562.21 -761.67 L562.58 -761.67 L562.96 -761.67 L563.34 -761.67 L563.71 -761.67 L564.09 -761.67 L564.47 -761.67 L564.84 -761.67 L565.22 -761.67 L565.60 -761.67 L565.97 -761.67 L566.35 -761.67 L566.73 -761.67 L567.10 -761.67 L567.48 -761.67 L567.86 -761.67 L568.23 -761.67 L568.61 -761.67 L568.99 -761.67 L569.36 -761.67 L569.74 -761.67 L570.11 -761.67 L570.49 -761.67 L570.87 -761.67 L571.24 -761.67 L571.62 -761.67 L572.00 -761.67 L572.37 -761.67 L572.75 -761.67 L573.13 -761.67 L573.50 -761.67 L573.88 -761.67 L574.26 -761.67 L574.63 -761.67 L575.01 -761.67 L575.39 -761.67 L575.76 -761.67 L576.14 -761.67 L576.52 -761.67 L576.89 -761.67 L577.27 -761.67 L577.65 -761.67 L578.02 -761.67 L578.40 -761.67 L578.78 -761.67 L579.15 -761.67 L579.53 -761.67 L579.91 -761.67 L580.28 -761.67 L580.66 -761.67 L581.04 -761.67 L581.41 -761.67 L581.79 -761.67 L582.17 -761.67 L582.54 -761.67 L582.92 -761.67 L583.30 -761.67 L583.67 -761.67 L584.05 -761.67 L584.43 -761.67 L584.80 -761.67 L585.18 -761.67 L585.56 -761.67 L585.93 -761.67 L586.31 -761.67 L586.69 -761.67 L587.06 -761.67 L587.44 -761.67 L587.82 -761.67 L588.19 -761.67 L588.57 -761.67 L588.95 -761.67 L589.32 -761.67 L589.70 -761.67 L590.08 -761.67 L590.45 -761.67 L590.83 -761.67 L591.21 -750.03 L591.58 -732.33 L591.96 -714.77 L592.34 -697.34 L592.71 -680.06 L593.09 -662.91 L593.47 -645.90 L593.84 -629.03 L594.22 -612.29 L594.60 -595.70 L594.97 -579.24 L595.35 -562.91 L595.73 -546.73 L596.10 -530.68 L596.48 -514.78 L596.86 -499.01 L597.23 -483.37 L597.61 -467.88 L597.99 -452.52 L598.36 -437.30 L598.74 -422.22 L599.12 -407.27 L599.49 -392.47 L599.87 -377.80 L600.24 -363.27 L600.62 -348.87 L601.00 -334.62 L601.37 -320.50 L601.75 -306.52 L602.13 -292.68 L602.50 -278.97 L602.88 -265.41 L603.26 -251.98 L603.63 -238.69 L604.01 -225.53 L604.39 -212.52 L604.76 -199.64 L605.14 -186.90 L605.52 -174.29 L605.89 -161.83 L606.27 -149.50 L606.65 -137.31 L607.02 -125.26 L607.40 -113.35 L607.78 -101.57 L608.15 -89.93 L608.53 -78.43 L608.91 -67.07 L609.28 -55.84 L609.66 -44.75 L610.04 -33.80 L610.41 -22.99 L610.79 -12.32 L611.17 -1.78 L611.54 8.62 L611.92 18.88 L612.30 29.00 L612.67 38.99 L613.05 48.84 L613.43 58.55 L613.80 68.12 L614.18 77.56 L614.56 86.85 L614.93 96.01 L615.31 105.03 L615.69 113.92 L616.06 122.66 L616.44 131.27 L616.82 139.74 L617.19 148.08 L617.57 156.27 L617.95 164.33 L618.32 172.25 L618.70 180.03 L619.08 187.68 L619.45 195.18 L619.83 202.55 L620.21 209.78 L620.58 216.88 L620.96 223.83 L621.34 230.65 L621.71 237.33 L622.09 243.87 L622.47 250.28 L622.84 256.54 L623.22 262.67 L623.60 268.66 L623.97 274.52 L624.35 280.23 L624.73 285.81 L625.10 291.25 L625.48 296.55 L625.86 301.72 L626.23 306.75 L626.61 311.64 L626.99 316.39 L627.36 321.00 L627.74 325.48 L628.12 329.82 L628.49 334.02 L628.87 338.08 L629.25 342.01 L629.62 345.80 L630.00 349.45 L630.37 352.96 L630.75 356.33 L631.13 359.57 L631.50 362.67 L631.88 365.63 L632.26 368.45 L632.63 371.14 L633.01 373.69 L633.39 376.10 L633.76 378.37 L634.14 380.50 L634.52 382.50 L634.89 384.36 L635.27 386.08 L635.65 387.67 L636.02 389.11 L636.40 390.42 L636.78 391.59 L637.15 392.63 L637.53 393.52 L637.91 394.28 L638.28 394.90 L638.66 395.38 L639.04 395.72 L639.41 395.93 L639.79 396.00 L640.17 395.93 L640.54 395.72 L640.92 395.38 L641.30 394.90 L641.67 394.28 L642.05 393.52 L642.43 392.63 L642.80 391.59 L643.18 390.42 L643.56 389.11 L643.93 387.67 L644.31 386.08 L644.69 384.36 L645.06 382.50 L645.44 380.50 L645.82 378.37 L646.19 376.10 L646.57 373.69 L646.95 371.14 L647.32 368.45 L647.70 365.63 L648.08 362.67 L648.45 359.57 L648.83 356.33 L649.21 352.96 L649.58 349.45 L649.96 345.80 L650.34 342.01 L650.71 338.08 L651.09 334.02 L651.47 329.82 L651.84 325.48 L652.22 321.00 L652.60 316.39 L652.97 311.64 L653.35 306.75 L653.73 301.72 L654.10 296.55 L654.48 291.25 L654.86 285.81 L655.23 280.23 L655.61 274.52 L655.99 268.66 L656.36 262.67 L656.74 256.54 L657.12 250.28 L657.49 243.87 L657.87 237.33 L658.25 230.65 L658.62 223.83 L659.00 216.88 L659.38 209.78 L659.75 202.55 L660.13 195.18 L660.50 187.68 L660.88 180.03 L661.26 172.25 L661.63 164.33 L662.01 156.27 L662.39 148.08 L662.76 139.74 L663.14 131.27 L663.52 122.66 L663.89 113.92 L664.27 105.03 L664.65 96.01 L665.02 86.85 L665.40 77.56 L665.78 68.12 L666.15 58.55 L666.53 48.84 L666.91 38.99 L667.28 29.00 L667.66 18.88 L668.04 8.62 L668.41 -1.78 L668.79 -12.32 L669.17 -22.99 L669.54 -33.80 L669.92 -44.75 L670.30 -55.84 L670.67 -67.07 L671.05 -78.43 L671.43 -89.93 L671.80 -101.57 L672.18 -113.35 L672.56 -125.26 L672.93 -137.31 L673.31 -149.50 L673.69 -161.83 L674.06 -174.29 L674.44 -186.90 L674.82 -199.64 L675.19 -212.52 L675.57 -225.53 L675.95 -238.69 L676.32 -251.98 L676.70 -265.41 L677.08 -278.97 L677.45 -292.68 L677.83 -306.52 L678.21 -320.50 L678.58 -334.62 L678.96 -348.87 L679.34 -363.27 L679.71 -377.80 L680.09 -392.47 L680.47 -407.27 L680.84 -422.22 L681.22 -437.30 L681.60 -452.52 L681.97 -467.88 L682.35 -483.37 L682.73 -499.01 L683.10 -514.78 L683.48 -530.68 L683.86 -546.73 L684.23 -562.91 L684.61 -579.24 L684.99 -595.70 L685.36 -612.29 L685.74 -629.03 L686.12 -645.90 L686.49 -662.91 L686.87 -680.06 L687.25 -697.34 L687.62 -714.77 L688.00 -732.33 L688.38 -750.03 L688.75 -761.67 L689.13 -761.67 L689.51 -761.67 L689.88 -761.67 L690.26 -761.67 L690.63 -761.67 L691.01 -761.67 L691.39 -761.67 L691.76 -761.67 L692.14 -761.67 L692.52 -761.67 L692.89 -761.67 L693.27 -761.67 L693.65 -761.67 L694.02 -761.67 L694.40 -761.67 L694.78 -761.67 L695.15 -761.67 L695.53 -761.67 L695.91 -761.67 L696.28 -761.67 L696.66 -761.67 L697.04 -761.67 L697.41 -761.67 L697.79 -761.67 L698.17 -761.67 L698.54 -761.67 L698.92 -761.67 L699.30 -761.67 L699.67 -761.67 L700.05 -761.67 L700.43 -761.67 L700.80 -761.67 L701.18 -761.67 L701.56 -761.67 L701.93 -761.67 L702.31 -761.67 L702.69 -761.67 L703.06 -761.67 L703.44 -761.67 L703.82 -761.67 L704.19 -761.67 L704.57 -761.67 L704.95 -761.67 L705.32 -761.67 L705.70 -761.67 L706.08 -761.67 L706.45 -761.67 L706.83 -761.67 L707.21 -761.67 L707.58 -761.67 L707.96 -761.67 L708.34 -761.67 L708.71 -761.67 L709.09 -761.67 L709.47 -761.67 L709.84 -761.67 L710.22 -761.67 L710.60 -761.67 L710.97 -761.67 L711.35 -761.67 L711.73 -761.67 L712.10 -761.67 L712.48 -761.67 L712.86 -761.67 L713.23 -761.67 L713.61 -761.67 L713.99 -761.67 L714.36 -761.67 L714.74 -761.67 L715.12 -761.67 L715.49 -761.67 L715.87 -761.67 L716.25 -761.67 L716.62 -761.67 L717.00 -761.67 L717.38 -761.67 L717.75 -761.67 L718.13 -761.67 L718.51 -761.67 L718.88 -761.67 L719.26 -761.67 L719.64 -761.67 L720.01 -761.67 L720.39 -761.67 L720.76 -761.67 L721.14 -761.67 L721.52 -761.67 L721.89 -761.67 L722.27 -761.67 L722.65 -761.67 L723.02 -761.67 L723.40 -761.67 L723.78 -761.67 L724.15 -761.67 L724.53 -761.67 L724.91 -761.67 L725.28 -761.67 L725.66 -761.67 L726.04 -761.67 L726.41 -761.67 L726.79 -761.67 L727.17 -761.67 L727.54 -761.67 L727.92 -761.67 L728.30 -761.67 L728.67 -761.67 L729.05 -761.67 L729.43 -761.67 L729.80 -761.67 L730.18 -761.67 L730.56 -761.67 L730.93 -761.67 L731.31 -761.67 L731.69 -761.67 L732.06 -761.67 L732.44 -761.67 L732.82 -761.67 L733.19 -761.67 L733.57 -761.67 L733.95 -761.67 L734.32 -761.67 L734.70 -761.67" fill="none" stroke="#148c14" stroke-width="1.7"/>
</g>
<line x1="486.7" x2="517.5" y1="78.7" y2="78.7" stroke="#ffa500" stroke-width="1.7"/>
<line x1="486.7" x2="517.5" y1="101.5" y2="101.5" stroke="#ff0000" stroke-width="1.7"/>
<line x1="486.7" x2="517.5" y1="122.4" y2="122.4" stroke="#000" stroke-width="1.7" stroke-dasharray="8.5 4" stroke-dashoffset="2"/>
<line x1="486.7" x2="517.5" y1="143.0" y2="143.0" stroke="#148c14" stroke-width="1.7"/>
<text x="533.3" y="84.1" style="font-size:17.3px">GS98 (NuFIT 4.1)</text>
<text x="533.3" y="108.2" style="font-size:17.3px">GS98</text>
<text x="533.3" y="128.7" style="font-size:17.3px">AGSS09</text>
<text x="533.3" y="148.8" style="font-size:17.3px">KamLAND</text>
<rect x="433.40" y="48.70" width="301.30" height="347.30" fill="none" stroke="#000" stroke-width="1.4"/><path d="M508.73 396.00v-15.50M508.73 48.70v15.50M584.05 396.00v-15.50M584.05 48.70v15.50M659.38 396.00v-15.50M659.38 48.70v15.50M452.23 396.00v-8.00M452.23 48.70v8.00M471.06 396.00v-8.00M471.06 48.70v8.00M489.89 396.00v-8.00M489.89 48.70v8.00M527.56 396.00v-8.00M527.56 48.70v8.00M546.39 396.00v-8.00M546.39 48.70v8.00M565.22 396.00v-8.00M565.22 48.70v8.00M602.88 396.00v-8.00M602.88 48.70v8.00M621.71 396.00v-8.00M621.71 48.70v8.00M640.54 396.00v-8.00M640.54 48.70v8.00M678.21 396.00v-8.00M678.21 48.70v8.00M697.04 396.00v-8.00M697.04 48.70v8.00M715.87 396.00v-8.00M715.87 48.70v8.00M433.40 338.12h15.50M734.70 338.12h-15.50M433.40 280.23h15.50M734.70 280.23h-15.50M433.40 222.35h15.50M734.70 222.35h-15.50M433.40 164.47h15.50M734.70 164.47h-15.50M433.40 106.58h15.50M734.70 106.58h-15.50M433.40 381.53h8.00M734.70 381.53h-8.00M433.40 367.06h8.00M734.70 367.06h-8.00M433.40 352.59h8.00M734.70 352.59h-8.00M433.40 323.65h8.00M734.70 323.65h-8.00M433.40 309.18h8.00M734.70 309.18h-8.00M433.40 294.70h8.00M734.70 294.70h-8.00M433.40 265.76h8.00M734.70 265.76h-8.00M433.40 251.29h8.00M734.70 251.29h-8.00M433.40 236.82h8.00M734.70 236.82h-8.00M433.40 207.88h8.00M734.70 207.88h-8.00M433.40 193.41h8.00M734.70 193.41h-8.00M433.40 178.94h8.00M734.70 178.94h-8.00M433.40 150.00h8.00M734.70 150.00h-8.00M433.40 135.52h8.00M734.70 135.52h-8.00M433.40 121.05h8.00M734.70 121.05h-8.00M433.40 92.11h8.00M734.70 92.11h-8.00M433.40 77.64h8.00M734.70 77.64h-8.00M433.40 63.17h8.00M734.70 63.17h-8.00" stroke="#000" stroke-width="1.3" fill="none"/>
<text x="426" y="402.70" text-anchor="end" style="font-size:17.7px;font-style:italic">0</text>
<text x="426" y="344.82" text-anchor="end" style="font-size:17.7px;font-style:italic">2</text>
<text x="426" y="286.93" text-anchor="end" style="font-size:17.7px;font-style:italic">4</text>
<text x="426" y="229.05" text-anchor="end" style="font-size:17.7px;font-style:italic">6</text>
<text x="426" y="171.17" text-anchor="end" style="font-size:17.7px;font-style:italic">8</text>
<text x="426" y="113.28" text-anchor="end" style="font-size:17.7px;font-style:italic">10</text>
<text x="426" y="55.40" text-anchor="end" style="font-size:17.7px;font-style:italic">12</text>
<text x="433.70" y="417.9" text-anchor="middle" style="font-size:17.7px;font-style:italic">2</text>
<text x="509.03" y="417.9" text-anchor="middle" style="font-size:17.7px;font-style:italic">4</text>
<text x="584.35" y="417.9" text-anchor="middle" style="font-size:17.7px;font-style:italic">6</text>
<text x="659.67" y="417.9" text-anchor="middle" style="font-size:17.7px;font-style:italic">8</text>
<text x="735.00" y="417.9" text-anchor="middle" style="font-size:17.7px;font-style:italic">10</text>
<text transform="translate(403.90 237.70) rotate(-90)" style="font-size:19px">Δχ<tspan dy="-11.8" style="font-size:13.9px">2</tspan></text>
<text x="518" y="446.8" style="font-size:19px">Δm<tspan dy="-11.5" style="font-size:13.9px">2</tspan><tspan dx="-7" dy="19" style="font-size:13.9px">21</tspan><tspan dy="-7.5"> [10</tspan><tspan dy="-11.5" style="font-size:13.9px">−5</tspan><tspan dy="11.5"> eV</tspan><tspan dy="-11.5" style="font-size:13.9px">2</tspan><tspan dy="11.5">]</tspan></text>
<rect x="533.7" y="2.3" width="201" height="30.3" fill="#ffffc0" stroke="#222" stroke-width="1.3"/>
<text x="551.8" y="25.3" style="font-size:21.5px">NuFIT 5.0 (2020)</text>
</svg></body></html>
